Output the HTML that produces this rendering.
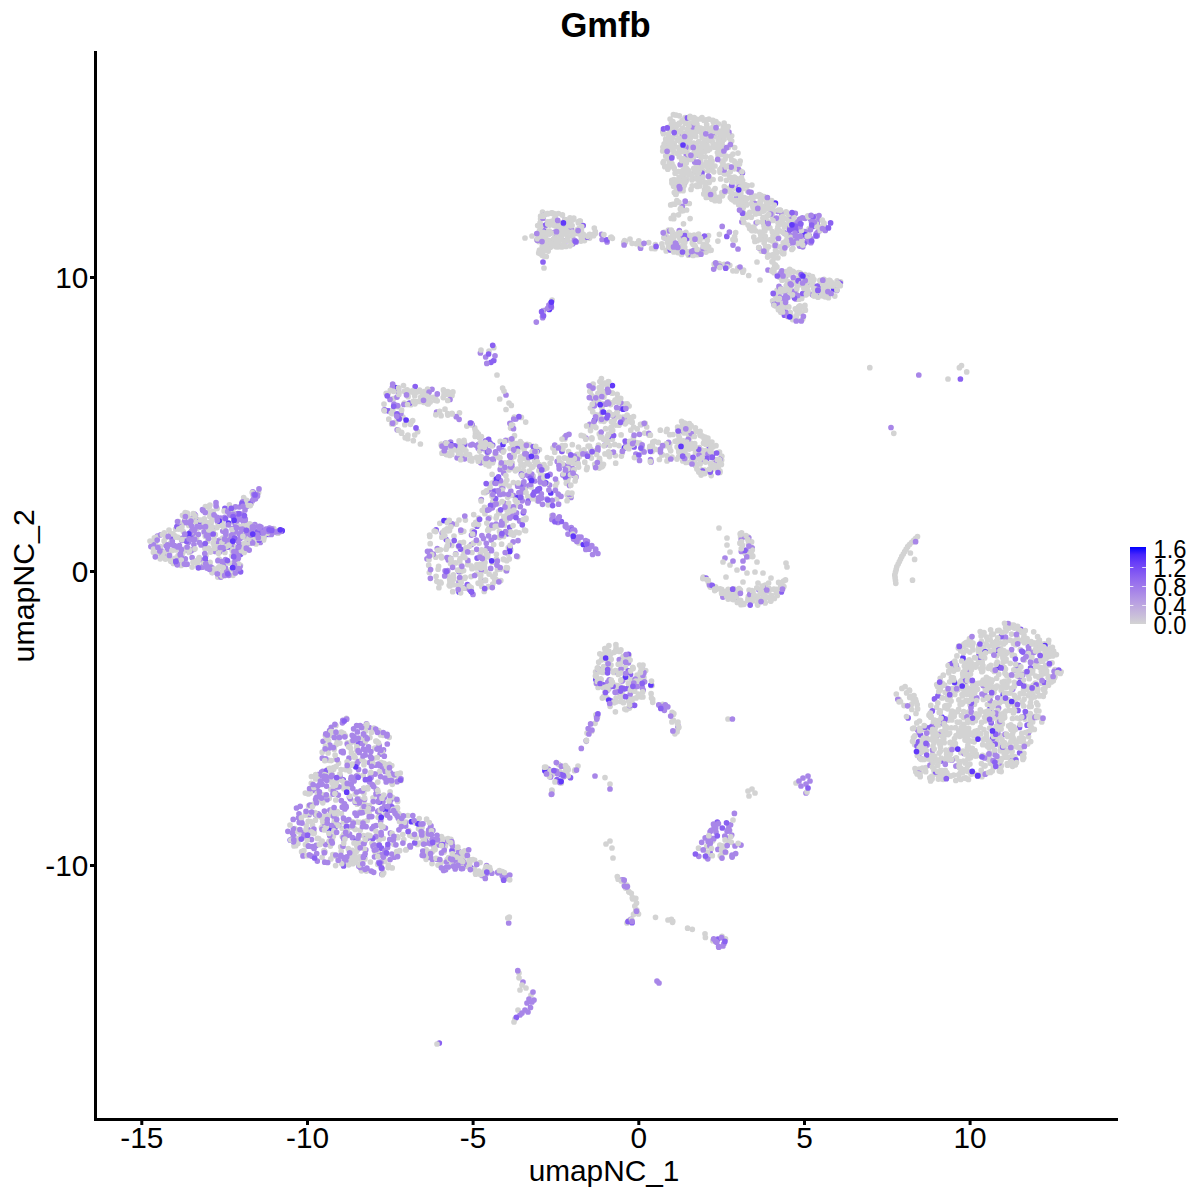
<!DOCTYPE html>
<html><head><meta charset="utf-8">
<style>
html,body{margin:0;padding:0;background:#fff;}
svg{display:block;}
text{font-family:"Liberation Sans",sans-serif;fill:#000;}
</style></head>
<body>
<svg width="1200" height="1200" viewBox="0 0 1200 1200">
<rect width="1200" height="1200" fill="#fff"/>
<g fill="none" stroke-linecap="round" stroke-width="5.7">
<path stroke="#D3D3D3" d="M710.5 129.8h0M721.4 132.8h0M668.6 127.4h0M677.7 124.7h0M706.2 197.4h0M712.0 128.9h0M702.1 135.2h0M722.8 168.0h0M678.9 181.4h0M713.4 128.7h0M662.8 131.9h0M688.8 147.0h0M719.3 137.6h0M665.7 139.1h0M720.6 178.9h0M723.4 168.5h0M675.4 191.9h0M723.4 192.5h0M723.9 150.3h0M696.6 146.6h0M700.8 160.8h0M740.2 170.8h0M674.3 124.2h0M701.3 151.5h0M722.3 136.5h0M688.7 130.3h0M666.6 147.3h0M696.4 177.4h0M691.8 144.6h0M718.5 140.5h0M667.4 157.3h0M690.7 117.3h0M700.8 118.9h0M724.7 192.4h0M685.9 119.2h0M740.2 161.0h0M699.1 179.8h0M694.2 151.9h0M674.1 179.5h0M675.1 173.2h0M682.5 128.1h0M679.1 177.3h0M712.1 198.4h0M731.7 135.8h0M713.1 145.0h0M696.7 144.9h0M728.1 165.9h0M684.5 164.4h0M705.4 189.0h0M708.9 119.2h0M722.2 141.9h0M683.9 175.6h0M719.4 200.9h0M672.8 121.7h0M735.4 164.4h0M675.6 194.3h0M695.6 153.7h0M700.0 162.3h0M693.9 171.9h0M719.7 139.2h0M691.3 157.2h0M722.4 171.8h0M683.1 190.7h0M727.5 132.0h0M686.4 168.4h0M723.0 162.1h0M710.4 179.8h0M723.4 132.0h0M686.9 172.7h0M686.1 159.2h0M685.3 123.4h0M674.3 168.4h0M689.3 134.7h0M682.4 121.0h0M698.5 163.8h0M712.2 141.2h0M708.5 192.0h0M670.1 130.7h0M723.5 169.6h0M710.3 197.3h0M714.3 136.3h0M721.4 161.0h0M675.5 182.5h0M699.8 179.3h0M666.8 150.5h0M735.2 165.5h0M711.0 179.4h0M698.3 154.2h0M700.8 153.7h0M694.2 117.7h0M684.2 179.1h0M708.2 171.1h0M715.1 188.6h0M672.6 137.3h0M683.9 135.3h0M693.8 168.4h0M707.2 166.4h0M685.1 117.5h0M697.4 164.9h0M730.8 156.3h0M686.3 178.9h0M711.6 199.1h0M700.4 178.5h0M702.9 171.0h0M710.1 161.7h0M665.7 156.0h0M720.0 172.2h0M673.4 127.8h0M719.7 131.5h0M702.6 164.9h0M709.0 169.7h0M663.4 133.7h0M701.0 177.0h0M674.4 146.2h0M701.9 151.9h0M723.8 166.0h0M701.5 128.6h0M677.3 140.1h0M678.6 147.4h0M686.2 180.6h0M683.9 172.0h0M688.3 170.7h0M694.0 132.2h0M695.8 136.4h0M696.8 168.9h0M692.8 122.9h0M713.8 190.3h0M721.9 192.6h0M701.4 132.6h0M671.5 123.5h0M686.1 143.7h0M726.1 156.1h0M684.3 184.7h0M692.0 179.9h0M724.4 126.2h0M688.8 147.9h0M708.1 137.6h0M677.2 153.2h0M726.9 134.9h0M723.3 125.9h0M668.0 150.7h0M727.5 166.2h0M679.4 131.2h0M720.5 139.0h0M665.2 143.4h0M681.0 133.0h0M790.7 219.3h0M766.1 224.5h0M752.8 199.9h0M752.6 198.8h0M764.4 223.9h0M730.3 197.4h0M783.2 242.9h0M739.5 181.5h0M764.3 238.2h0M764.1 243.0h0M759.4 194.5h0M786.1 225.6h0M771.7 200.5h0M789.6 225.4h0M736.8 178.7h0M782.3 249.6h0M735.1 201.8h0M767.5 204.4h0M774.4 245.7h0M745.6 184.9h0M754.1 211.3h0M753.8 237.2h0M765.3 236.3h0M787.2 236.4h0M755.6 230.8h0M760.6 201.2h0M762.6 233.1h0M733.0 200.0h0M742.4 185.9h0M761.3 251.1h0M742.9 188.6h0M766.5 205.1h0M748.1 225.0h0M752.2 230.7h0M790.8 219.1h0M760.3 232.8h0M744.8 214.8h0M765.6 246.5h0M769.9 227.9h0M761.9 207.6h0M737.9 183.0h0M740.6 181.2h0M772.3 214.9h0M777.3 252.3h0M764.2 229.9h0M789.0 228.2h0M790.5 215.2h0M766.9 216.2h0M774.6 243.0h0M760.6 203.9h0M768.1 221.8h0M759.5 197.1h0M784.4 226.9h0M788.5 219.9h0M764.2 210.6h0M783.8 253.7h0M747.5 185.5h0M765.3 197.5h0M778.0 222.7h0M759.9 205.6h0M751.6 195.8h0M763.2 197.7h0M786.3 212.5h0M742.6 180.6h0M761.4 236.1h0M784.1 232.5h0M740.5 185.8h0M772.1 216.8h0M780.9 217.2h0M764.2 196.6h0M768.5 246.7h0M813.5 222.3h0M796.4 226.9h0M792.9 248.3h0M800.8 235.1h0M824.0 223.1h0M809.1 228.7h0M802.1 244.2h0M818.4 230.3h0M791.0 217.2h0M792.8 220.5h0M792.9 236.4h0M810.9 218.4h0M801.6 244.7h0M789.3 220.8h0M826.4 294.4h0M840.6 281.9h0M773.8 303.6h0M814.4 295.9h0M790.6 285.9h0M790.9 315.6h0M802.6 275.0h0M798.3 282.4h0M804.9 305.3h0M824.0 279.4h0M802.7 319.0h0M795.9 278.0h0M786.3 272.2h0M789.7 269.4h0M802.4 276.4h0M777.1 290.3h0M800.4 273.1h0M808.1 285.9h0M780.7 292.3h0M778.6 299.4h0M800.6 276.4h0M809.0 275.4h0M777.5 305.6h0M795.8 292.0h0M824.5 286.6h0M788.8 296.9h0M780.4 272.8h0M805.7 294.9h0M805.2 275.5h0M828.1 282.1h0M793.5 295.6h0M823.7 295.9h0M819.7 285.0h0M801.1 282.8h0M798.3 295.8h0M802.9 294.2h0M787.1 284.1h0M796.1 309.5h0M789.0 290.6h0M780.1 305.1h0M798.8 285.0h0M783.9 305.1h0M772.8 261.4h0M776.9 266.9h0M792.4 284.1h0M779.4 291.5h0M787.8 275.0h0M837.1 280.8h0M801.7 298.4h0M836.8 289.4h0M813.4 285.5h0M810.3 283.3h0M825.1 296.8h0M823.8 295.4h0M799.9 311.3h0M829.9 283.1h0M780.8 312.3h0M557.7 232.1h0M544.9 238.0h0M567.1 239.5h0M540.0 227.1h0M571.8 235.6h0M542.6 248.0h0M584.5 240.6h0M539.3 225.6h0M544.3 233.2h0M546.3 256.5h0M558.8 222.9h0M557.9 239.8h0M546.5 246.7h0M575.3 240.5h0M542.5 212.0h0M540.6 235.5h0M544.0 231.6h0M548.0 243.6h0M589.6 238.1h0M542.3 249.9h0M581.1 230.7h0M548.0 213.7h0M580.3 221.0h0M540.6 218.9h0M563.8 234.0h0M563.8 240.3h0M546.9 232.5h0M570.5 231.0h0M554.1 225.2h0M538.9 241.6h0M551.9 213.3h0M577.7 232.5h0M560.2 223.9h0M550.2 244.1h0M554.4 225.5h0M561.3 238.4h0M558.3 246.8h0M542.8 242.2h0M545.5 230.6h0M578.4 222.9h0M545.0 232.6h0M573.1 233.5h0M540.1 222.9h0M558.4 213.5h0M542.2 246.5h0M539.5 252.6h0M542.6 255.3h0M556.1 232.9h0M572.7 236.4h0M547.5 246.2h0M565.7 226.1h0M541.0 236.9h0M562.3 215.1h0M562.4 214.9h0M632.1 243.3h0M651.6 248.4h0M625.6 242.0h0M648.7 242.6h0M640.1 246.8h0M679.5 233.5h0M694.5 239.7h0M706.3 245.7h0M695.4 235.8h0M703.8 244.3h0M706.5 246.0h0M674.3 242.9h0M690.6 251.3h0M706.6 245.2h0M668.1 243.7h0M688.5 255.2h0M680.0 233.4h0M706.0 252.1h0M665.2 237.5h0M687.8 238.6h0M683.3 251.3h0M668.4 230.0h0M678.1 252.7h0M683.1 244.7h0M666.8 250.4h0M666.2 250.9h0M666.8 236.6h0M680.4 240.2h0M665.7 232.3h0M684.8 233.5h0M684.8 242.4h0M696.2 250.0h0M700.4 251.6h0M690.1 218.6h0M678.5 214.8h0M681.2 210.7h0M671.2 218.4h0M685.9 203.3h0M703.1 237.7h0M719.4 234.3h0M717.9 241.1h0M748.7 275.5h0M737.9 268.1h0M724.1 264.4h0M719.2 263.7h0M552.1 300.0h0M532.0 236.0h0M757.0 262.0h0M760.0 280.0h0M489.0 351.0h0M497.0 375.0h0M499.7 399.0h0M511.3 405.4h0M506.0 409.5h0M404.3 403.2h0M393.4 398.7h0M403.5 385.5h0M404.3 391.3h0M398.1 406.7h0M407.4 392.5h0M437.2 400.8h0M443.2 397.6h0M445.4 394.4h0M447.8 391.6h0M422.9 401.0h0M444.1 391.5h0M419.5 401.4h0M427.1 403.4h0M420.8 399.7h0M414.1 392.8h0M429.7 397.1h0M424.1 391.5h0M417.7 391.8h0M414.9 403.8h0M452.9 391.9h0M402.9 417.0h0M414.7 435.0h0M401.6 432.3h0M407.9 435.2h0M392.7 413.7h0M410.4 424.3h0M485.9 447.8h0M452.0 413.3h0M476.6 431.8h0M445.0 409.2h0M475.5 433.6h0M459.5 412.8h0M475.3 430.5h0M470.3 422.9h0M478.3 433.9h0M510.5 458.0h0M489.7 443.2h0M441.2 445.1h0M500.2 441.4h0M481.7 457.2h0M504.9 462.8h0M527.1 444.3h0M529.3 464.2h0M461.8 444.5h0M495.1 454.0h0M518.7 469.5h0M512.1 442.6h0M462.0 447.8h0M499.7 457.6h0M464.0 440.4h0M488.9 466.0h0M464.3 444.3h0M464.8 445.8h0M469.1 455.0h0M519.6 447.3h0M456.2 449.9h0M532.1 451.5h0M503.8 450.5h0M514.2 454.8h0M462.3 449.9h0M461.4 455.1h0M477.6 458.2h0M461.1 454.7h0M521.0 464.9h0M481.7 443.7h0M534.6 461.2h0M522.5 444.1h0M520.3 460.0h0M524.3 464.4h0M451.1 454.5h0M451.4 450.2h0M509.0 440.2h0M441.3 444.1h0M487.6 453.3h0M451.8 454.4h0M541.1 483.0h0M575.1 481.0h0M540.7 475.1h0M533.2 476.2h0M546.8 467.9h0M521.6 497.9h0M556.8 499.0h0M527.8 496.4h0M545.1 467.0h0M548.2 504.8h0M525.6 488.1h0M544.6 475.8h0M555.5 485.8h0M523.3 470.7h0M632.2 422.6h0M572.2 472.3h0M579.4 456.4h0M637.2 428.9h0M639.8 443.2h0M603.9 421.3h0M615.4 416.8h0M587.2 467.4h0M672.0 457.2h0M562.1 451.5h0M596.1 450.5h0M564.1 458.0h0M608.6 451.8h0M569.7 459.4h0M599.2 418.1h0M584.0 449.8h0M615.4 455.6h0M578.6 467.1h0M565.2 445.5h0M594.7 464.4h0M601.8 466.8h0M575.3 463.7h0M630.8 430.2h0M590.5 426.6h0M601.3 417.7h0M661.9 455.0h0M621.4 456.1h0M574.1 469.7h0M564.9 439.0h0M599.7 461.6h0M592.7 451.3h0M615.6 425.1h0M622.3 452.8h0M562.2 445.6h0M611.4 421.6h0M584.8 462.2h0M611.3 427.0h0M612.2 439.0h0M599.3 468.1h0M665.9 445.7h0M599.5 458.3h0M621.1 434.9h0M615.7 463.2h0M669.8 444.0h0M612.4 439.2h0M591.4 458.1h0M510.5 428.1h0M521.4 417.4h0M512.6 425.0h0M600.9 421.0h0M599.6 415.0h0M610.0 414.7h0M602.0 403.6h0M612.0 414.7h0M602.0 384.4h0M612.3 414.9h0M601.9 408.1h0M622.7 421.9h0M609.1 412.4h0M613.7 424.0h0M597.9 393.4h0M617.2 394.3h0M614.5 419.4h0M601.4 378.5h0M610.6 404.6h0M604.0 391.6h0M613.4 402.3h0M617.3 411.8h0M614.4 417.6h0M624.8 404.2h0M608.5 401.9h0M589.8 391.3h0M590.4 408.0h0M608.7 381.8h0M613.5 424.6h0M686.8 462.2h0M720.0 471.2h0M683.5 440.8h0M684.0 447.0h0M707.9 438.2h0M687.9 455.3h0M721.7 456.0h0M688.9 436.3h0M718.4 468.4h0M691.6 458.1h0M696.9 468.9h0M699.4 463.5h0M679.5 438.0h0M684.5 456.0h0M699.4 447.6h0M714.3 459.5h0M685.8 442.5h0M689.8 437.9h0M683.8 426.1h0M689.4 423.5h0M702.4 450.4h0M704.7 470.2h0M710.8 464.5h0M704.2 442.4h0M692.3 462.7h0M684.8 445.3h0M711.8 469.8h0M684.8 428.6h0M677.1 446.9h0M679.3 438.2h0M711.9 442.1h0M721.7 460.1h0M695.5 452.7h0M692.0 433.7h0M710.0 446.0h0M704.1 438.4h0M691.2 457.8h0M694.7 443.5h0M689.2 446.6h0M691.4 461.1h0M705.9 444.2h0M701.1 475.1h0M694.5 462.8h0M694.8 459.5h0M701.6 469.9h0M706.0 451.5h0M711.5 469.9h0M710.4 463.5h0M719.5 452.0h0M700.8 454.0h0M503.5 471.7h0M510.2 512.9h0M496.7 515.8h0M515.4 470.8h0M491.9 483.0h0M488.7 530.2h0M472.3 530.8h0M441.9 557.2h0M524.5 530.2h0M488.8 528.4h0M447.0 547.0h0M509.7 518.1h0M484.5 507.3h0M484.9 513.7h0M519.1 532.8h0M489.6 517.5h0M495.4 479.6h0M473.7 514.6h0M441.6 557.8h0M525.7 519.4h0M499.4 536.7h0M439.8 523.3h0M493.2 527.9h0M485.4 492.6h0M501.8 488.1h0M495.5 479.7h0M451.8 545.4h0M462.9 549.8h0M449.1 557.5h0M440.9 556.2h0M472.0 552.5h0M447.0 528.8h0M429.8 536.4h0M487.7 530.3h0M460.1 558.6h0M509.7 511.9h0M459.0 520.0h0M503.7 502.5h0M496.4 559.2h0M503.4 559.2h0M465.4 520.1h0M508.3 547.6h0M464.1 587.9h0M505.8 570.6h0M460.9 571.8h0M471.0 576.6h0M436.8 581.3h0M472.0 568.7h0M461.1 565.0h0M496.1 579.5h0M449.2 585.3h0M438.9 587.7h0M480.9 578.9h0M453.4 574.8h0M485.3 571.1h0M455.6 562.9h0M468.2 588.5h0M476.6 574.0h0M468.4 563.1h0M488.3 586.7h0M458.7 585.9h0M449.9 586.0h0M439.3 582.9h0M471.2 565.8h0M446.3 573.5h0M500.8 580.5h0M453.3 579.4h0M551.8 515.5h0M578.8 542.9h0M210.7 529.5h0M159.9 552.2h0M210.5 550.7h0M204.0 531.5h0M211.1 523.1h0M181.7 539.9h0M182.5 523.9h0M218.3 550.2h0M212.9 511.4h0M215.3 534.7h0M207.0 529.1h0M184.3 516.8h0M172.5 535.2h0M224.0 568.1h0M222.2 521.5h0M217.7 522.5h0M219.1 559.1h0M220.5 525.1h0M164.4 552.2h0M203.5 527.0h0M206.1 529.1h0M174.7 558.3h0M188.6 548.8h0M208.8 528.3h0M221.7 547.3h0M188.8 525.4h0M222.8 538.6h0M207.3 526.2h0M201.1 567.3h0M214.2 546.2h0M180.8 556.3h0M175.6 529.1h0M160.7 552.6h0M213.3 511.6h0M219.1 566.9h0M193.3 515.6h0M155.5 544.0h0M212.7 516.3h0M170.5 536.2h0M154.3 541.7h0M185.2 512.7h0M209.8 516.4h0M222.7 538.2h0M217.8 577.1h0M178.1 555.7h0M212.5 567.9h0M187.5 535.9h0M199.2 557.5h0M197.4 519.6h0M204.9 548.5h0M213.1 571.5h0M174.9 535.9h0M170.8 561.3h0M182.8 515.3h0M160.9 554.6h0M170.4 533.6h0M208.3 511.8h0M182.5 515.3h0M186.7 541.5h0M206.0 555.5h0M188.3 550.2h0M166.6 554.4h0M174.6 561.5h0M223.4 563.8h0M153.4 552.3h0M179.6 522.8h0M178.2 537.3h0M224.9 552.4h0M189.2 552.4h0M193.3 549.4h0M165.3 559.1h0M164.1 540.9h0M218.8 552.0h0M216.1 544.1h0M192.1 567.1h0M204.3 518.8h0M213.1 570.6h0M221.1 542.0h0M210.2 527.7h0M153.2 547.2h0M225.8 544.4h0M244.3 530.6h0M252.8 533.1h0M254.9 497.7h0M233.4 550.7h0M243.7 497.5h0M234.1 536.4h0M243.2 526.3h0M229.4 504.8h0M232.5 514.8h0M238.9 526.7h0M232.6 563.2h0M245.5 538.1h0M233.8 546.4h0M241.7 536.8h0M273.8 531.6h0M256.7 496.2h0M248.2 541.0h0M261.4 530.0h0M238.2 555.4h0M228.7 523.9h0M230.5 547.2h0M244.3 537.2h0M244.0 549.0h0M233.7 521.1h0M249.8 526.9h0M246.8 547.0h0M266.9 532.9h0M278.2 530.8h0M261.1 536.3h0M278.0 533.2h0M273.8 528.7h0M740.3 533.6h0M748.1 553.2h0M751.6 541.9h0M749.1 556.6h0M741.6 532.9h0M703.3 577.2h0M763.7 597.5h0M768.9 588.3h0M750.9 598.0h0M747.9 600.2h0M735.9 598.5h0M765.0 595.7h0M750.8 593.2h0M714.7 590.6h0M709.5 584.6h0M748.1 598.3h0M777.2 591.7h0M757.1 597.3h0M781.0 588.6h0M708.4 582.3h0M749.1 590.0h0M757.7 605.1h0M722.2 594.2h0M765.3 585.0h0M752.3 597.2h0M737.7 593.7h0M757.5 604.5h0M751.7 600.4h0M762.2 593.7h0M753.0 600.8h0M728.2 589.3h0M765.2 603.0h0M771.6 595.6h0M735.3 593.5h0M764.5 591.9h0M770.5 600.8h0M764.6 602.0h0M783.9 586.6h0M748.4 596.4h0M753.0 592.2h0M767.6 597.3h0M727.0 538.0h0M737.0 570.0h0M755.0 572.0h0M726.0 577.0h0M786.0 563.0h0M913.5 540.5h0M904.7 551.5h0M894.8 574.9h0M895.5 580.5h0M895.8 583.3h0M961.5 365.6h0M966.7 371.9h0M959.4 367.7h0M994.3 737.6h0M984.1 765.9h0M996.8 668.7h0M1012.3 655.5h0M1004.5 698.3h0M1007.1 675.9h0M1030.3 713.6h0M1015.4 763.6h0M1020.4 649.5h0M1003.1 743.2h0M1031.3 693.0h0M965.7 663.0h0M944.9 734.8h0M956.8 684.5h0M981.6 722.4h0M940.1 710.8h0M967.5 692.7h0M1017.0 718.0h0M963.3 672.2h0M930.6 780.9h0M933.5 723.5h0M1013.5 643.4h0M976.3 755.9h0M959.6 722.1h0M969.5 638.7h0M1046.1 658.6h0M986.1 643.9h0M996.8 759.1h0M989.7 705.0h0M957.0 766.2h0M1014.7 762.9h0M1007.0 750.7h0M1030.6 726.2h0M1042.7 660.2h0M1056.4 654.6h0M993.4 767.5h0M973.5 682.9h0M919.4 741.1h0M963.7 711.7h0M941.2 776.0h0M915.8 771.8h0M1024.0 635.0h0M950.2 754.3h0M999.2 630.4h0M1011.1 729.4h0M1032.6 672.9h0M1014.3 695.3h0M1001.1 728.9h0M927.8 758.8h0M967.2 694.5h0M954.3 663.2h0M1033.9 642.8h0M985.3 690.0h0M978.8 653.2h0M1040.3 648.8h0M1054.2 671.4h0M1035.6 649.6h0M986.7 637.0h0M994.2 752.2h0M996.8 643.8h0M999.4 703.1h0M976.7 664.3h0M946.2 726.8h0M1037.6 636.7h0M995.9 716.8h0M939.2 712.5h0M1043.8 673.6h0M965.8 684.9h0M936.4 738.3h0M943.7 773.5h0M1044.9 692.3h0M966.8 678.6h0M972.0 734.7h0M1011.9 689.7h0M1009.0 700.2h0M983.2 680.0h0M993.3 646.0h0M912.6 728.6h0M974.2 688.8h0M1011.6 634.1h0M920.6 743.5h0M1014.5 655.5h0M1013.9 655.3h0M956.9 655.9h0M1001.4 689.0h0M985.3 688.1h0M997.6 664.0h0M998.5 653.1h0M1003.2 748.2h0M967.8 771.4h0M1000.4 750.8h0M1023.5 690.1h0M1039.6 654.5h0M1039.1 661.7h0M975.5 667.1h0M1036.5 710.6h0M986.7 690.3h0M1003.1 687.2h0M914.8 735.9h0M929.2 729.0h0M986.4 739.6h0M968.1 688.1h0M951.4 677.5h0M935.5 727.4h0M1029.1 649.3h0M1022.9 759.4h0M979.8 647.6h0M952.9 693.2h0M1040.8 648.4h0M988.4 668.3h0M951.1 701.1h0M993.4 634.1h0M1017.0 668.5h0M1000.5 653.5h0M963.6 689.3h0M1030.0 722.3h0M972.4 664.0h0M958.6 709.4h0M990.2 763.3h0M1012.1 751.4h0M960.7 752.6h0M1031.2 643.9h0M986.7 713.0h0M1004.5 742.6h0M970.5 640.0h0M994.9 712.3h0M1000.4 716.7h0M932.4 739.8h0M978.2 683.3h0M943.3 675.2h0M976.1 685.4h0M1003.1 748.2h0M1052.0 662.8h0M930.6 759.6h0M1013.0 731.9h0M956.1 735.7h0M1028.3 695.4h0M1015.2 698.1h0M958.5 733.6h0M1050.2 650.5h0M972.2 695.0h0M1028.4 687.2h0M980.7 775.5h0M948.8 670.8h0M985.7 773.5h0M925.8 767.5h0M959.4 778.5h0M924.1 744.0h0M989.2 646.1h0M932.1 739.2h0M972.6 722.4h0M949.6 733.0h0M970.5 757.8h0M945.0 707.7h0M1040.0 695.3h0M987.8 744.8h0M927.1 727.5h0M1054.9 669.7h0M1043.2 671.0h0M961.1 727.6h0M1015.5 764.8h0M1012.0 625.3h0M933.1 736.8h0M924.9 740.2h0M1046.3 683.8h0M968.5 713.6h0M920.1 772.2h0M1048.4 656.4h0M960.7 651.0h0M1000.6 648.4h0M1010.6 759.8h0M967.9 678.2h0M954.8 694.5h0M990.8 665.3h0M951.3 667.3h0M946.3 773.3h0M950.5 716.6h0M980.8 658.6h0M966.9 731.7h0M944.6 731.6h0M992.3 634.3h0M1007.5 735.4h0M1037.0 646.5h0M966.6 642.4h0M1024.9 719.1h0M1023.8 688.5h0M919.5 721.0h0M1041.3 683.2h0M949.6 695.7h0M946.9 773.0h0M941.3 697.6h0M1030.7 741.6h0M1011.2 652.1h0M966.4 650.5h0M957.2 722.1h0M1013.8 762.2h0M1000.0 724.5h0M1041.8 722.0h0M1048.4 642.9h0M975.4 720.7h0M996.2 705.8h0M940.9 777.6h0M979.9 733.5h0M1035.7 662.9h0M943.1 779.3h0M997.0 738.4h0M967.6 765.9h0M1024.8 672.3h0M1005.5 757.2h0M1001.2 636.7h0M1016.4 746.6h0M1008.8 623.9h0M936.6 707.3h0M1002.4 723.9h0M1048.2 677.6h0M1036.9 717.5h0M928.6 739.4h0M937.6 686.5h0M930.8 717.2h0M970.5 674.0h0M1004.9 673.2h0M932.7 753.9h0M1045.7 667.2h0M1042.7 657.7h0M1003.6 713.2h0M1000.7 747.9h0M974.1 755.0h0M966.7 778.5h0M980.3 709.9h0M971.4 694.9h0M969.8 652.1h0M932.3 757.8h0M980.9 668.7h0M1015.7 644.7h0M1035.3 716.1h0M1044.3 643.9h0M997.7 630.7h0M982.4 666.7h0M1031.2 706.4h0M1061.1 671.8h0M940.2 690.1h0M922.9 751.3h0M998.9 650.9h0M1021.0 640.7h0M1001.7 714.3h0M1037.4 642.7h0M958.9 699.9h0M940.4 744.0h0M991.0 696.1h0M997.1 646.5h0M1028.5 736.4h0M1026.8 689.5h0M963.7 693.8h0M970.4 664.1h0M968.6 740.3h0M958.8 730.5h0M978.5 648.3h0M989.3 689.6h0M973.2 689.1h0M968.4 712.1h0M955.5 758.4h0M985.4 720.8h0M933.2 734.1h0M1045.4 652.7h0M958.1 765.1h0M1032.7 670.5h0M999.4 666.3h0M1036.9 666.2h0M994.6 744.2h0M981.5 756.6h0M919.1 750.1h0M1013.9 703.7h0M984.7 658.0h0M932.8 756.6h0M919.2 769.0h0M942.0 770.7h0M927.5 731.0h0M970.9 644.9h0M998.5 760.3h0M914.6 744.6h0M987.4 690.2h0M955.4 743.6h0M998.2 744.6h0M999.9 717.8h0M964.5 736.2h0M1028.0 713.3h0M983.3 699.4h0M1006.5 653.2h0M929.0 731.7h0M971.4 643.6h0M1004.8 658.2h0M964.0 660.3h0M1007.4 751.5h0M950.6 749.0h0M1012.3 626.9h0M1052.7 655.9h0M963.7 717.6h0M1032.2 643.1h0M946.9 727.7h0M974.7 684.2h0M1035.8 651.3h0M1014.1 740.3h0M1001.5 765.5h0M982.7 671.0h0M1009.7 757.6h0M939.2 724.8h0M977.3 717.3h0M1025.2 715.7h0M929.0 715.2h0M949.6 752.8h0M924.0 759.5h0M1036.0 647.3h0M991.5 742.9h0M967.4 748.4h0M999.9 735.3h0M989.1 666.7h0M944.2 731.0h0M970.9 661.6h0M977.5 689.2h0M996.4 641.0h0M919.7 741.4h0M1038.8 716.9h0M1035.4 683.1h0M1053.6 651.2h0M949.1 705.1h0M1037.4 691.6h0M1019.1 670.9h0M1054.9 676.6h0M950.6 742.4h0M950.5 753.7h0M957.9 668.9h0M909.4 690.2h0M916.0 713.5h0M899.0 699.4h0M912.9 696.2h0M380.0 833.7h0M328.0 747.9h0M352.2 858.3h0M343.3 803.3h0M343.5 822.0h0M371.9 843.3h0M357.3 849.9h0M329.3 798.3h0M418.5 828.8h0M314.1 788.1h0M365.3 804.8h0M389.2 737.3h0M383.7 872.9h0M329.9 735.6h0M393.3 798.1h0M337.0 786.5h0M298.0 830.4h0M384.8 861.3h0M308.2 821.4h0M319.3 816.1h0M416.0 822.5h0M323.1 825.4h0M341.4 813.6h0M325.4 735.4h0M373.2 785.0h0M406.3 822.0h0M467.4 866.2h0M355.1 757.6h0M356.9 747.2h0M464.7 850.9h0M354.7 764.0h0M352.8 863.7h0M291.9 840.3h0M321.5 827.5h0M363.4 835.7h0M355.8 764.2h0M462.2 867.1h0M359.3 812.1h0M338.5 763.2h0M331.9 826.7h0M346.4 718.4h0M426.1 849.7h0M379.1 840.3h0M335.8 759.2h0M362.9 825.5h0M362.9 803.6h0M444.2 839.1h0M320.3 844.2h0M352.7 821.9h0M373.0 797.8h0M294.8 828.5h0M362.2 808.6h0M432.0 863.6h0M331.8 814.2h0M426.7 837.0h0M333.7 769.3h0M426.1 859.3h0M438.1 859.5h0M356.3 843.3h0M337.3 741.7h0M393.8 844.3h0M365.2 840.7h0M356.1 742.8h0M345.4 735.9h0M364.0 821.7h0M383.3 838.3h0M348.9 787.4h0M314.3 832.8h0M407.9 815.5h0M368.5 806.6h0M400.3 773.1h0M426.6 819.2h0M349.5 744.1h0M336.9 778.5h0M293.6 831.3h0M308.9 815.3h0M342.1 828.3h0M354.1 739.7h0M347.3 742.8h0M364.9 742.5h0M361.7 861.1h0M391.7 782.4h0M362.0 737.8h0M310.7 821.5h0M370.2 775.3h0M357.2 751.1h0M351.1 777.8h0M318.7 838.5h0M378.1 801.9h0M361.8 869.1h0M393.3 775.6h0M322.1 842.5h0M317.0 790.8h0M336.1 816.2h0M350.7 742.9h0M339.9 743.1h0M358.2 858.3h0M375.9 741.2h0M336.1 766.6h0M377.8 782.1h0M331.2 760.6h0M349.9 862.5h0M381.1 762.5h0M369.1 813.0h0M373.6 758.3h0M461.4 858.2h0M363.9 793.2h0M349.9 827.1h0M330.8 789.3h0M391.9 778.6h0M376.0 853.5h0M378.4 851.8h0M322.1 857.3h0M343.8 834.4h0M438.0 840.5h0M406.3 849.5h0M381.4 818.2h0M361.5 870.8h0M367.8 788.8h0M447.1 859.6h0M313.2 804.4h0M435.1 849.6h0M374.3 773.8h0M345.6 836.0h0M423.2 841.6h0M378.8 730.6h0M374.7 748.0h0M357.8 775.1h0M370.8 761.6h0M355.2 794.1h0M372.9 843.8h0M328.8 760.3h0M326.5 815.9h0M295.8 845.7h0M376.9 837.1h0M312.5 825.1h0M328.0 769.0h0M301.6 851.7h0M357.2 804.2h0M392.2 867.9h0M441.3 862.2h0M397.5 836.5h0M294.0 845.9h0M397.9 837.7h0M363.2 775.3h0M322.2 752.2h0M337.5 735.4h0M464.0 856.5h0M365.8 805.0h0M310.3 805.4h0M503.0 878.4h0M475.7 874.2h0M508.1 875.6h0M461.7 853.6h0M483.8 871.9h0M455.0 860.1h0M444.1 852.0h0M453.9 849.7h0M440.3 839.7h0M421.3 834.4h0M441.5 836.7h0M453.9 858.3h0M480.1 862.5h0M621.2 661.3h0M627.2 660.9h0M640.6 671.7h0M605.1 687.9h0M620.9 649.9h0M603.6 696.7h0M631.5 680.1h0M598.7 662.2h0M605.1 692.1h0M601.5 660.0h0M652.0 685.5h0M639.8 685.6h0M628.7 699.5h0M634.5 683.6h0M623.4 689.1h0M627.8 708.6h0M607.2 661.6h0M623.8 679.4h0M613.7 672.5h0M597.8 667.8h0M607.3 670.8h0M622.4 679.6h0M651.0 685.6h0M632.4 698.7h0M595.6 671.9h0M645.7 670.5h0M616.1 648.2h0M627.9 657.4h0M607.0 666.2h0M602.7 687.3h0M603.6 666.5h0M617.8 685.5h0M632.3 703.8h0M619.9 694.2h0M615.9 687.5h0M618.4 650.0h0M597.1 682.2h0M628.6 700.9h0M614.6 702.6h0M603.9 654.2h0M624.8 709.0h0M629.0 655.2h0M618.8 687.2h0M626.3 709.7h0M621.1 701.4h0M616.2 701.8h0M606.7 653.1h0M642.9 696.9h0M627.5 656.2h0M601.9 684.0h0M622.6 657.5h0M602.9 654.7h0M603.8 655.2h0M671.9 721.9h0M662.7 704.4h0M677.7 728.7h0M678.0 722.2h0M673.4 714.5h0M677.1 731.7h0M586.3 741.3h0M567.6 768.2h0M565.7 769.9h0M564.9 772.7h0M575.0 769.8h0M559.8 771.6h0M574.6 770.7h0M568.2 769.7h0M546.7 773.4h0M558.8 764.4h0M796.0 783.0h0M748.0 791.0h0M755.0 793.0h0M612.0 848.0h0M706.7 846.4h0M728.9 841.3h0M721.6 854.5h0M719.8 845.0h0M731.3 842.3h0M729.7 830.6h0M731.7 856.6h0M705.5 857.1h0M618.1 879.2h0M628.7 920.7h0M633.5 914.4h0M624.3 885.3h0M636.8 910.0h0M635.8 898.3h0M627.0 923.0h0M636.5 903.1h0M633.1 897.8h0M671.4 919.4h0M672.7 921.1h0M655.5 917.3h0M722.0 936.4h0M712.9 940.7h0M519.0 977.8h0M531.0 995.0h0M515.0 1019.0h0M519.0 973.0h0"/>
<path stroke="#A886E8" d="M728.9 132.2h0M738.3 169.0h0M714.9 132.5h0M682.5 142.5h0M680.2 164.7h0M698.2 154.9h0M751.1 192.3h0M741.9 221.8h0M736.4 195.6h0M784.3 232.9h0M758.9 247.8h0M755.1 203.5h0M777.6 211.3h0M817.2 222.8h0M789.1 234.4h0M789.8 227.8h0M816.1 234.2h0M798.1 229.4h0M815.8 216.6h0M795.9 221.5h0M815.9 223.4h0M816.4 222.3h0M818.3 219.8h0M789.5 243.2h0M807.2 241.4h0M791.9 236.4h0M817.8 232.4h0M817.2 235.7h0M810.3 218.8h0M816.9 233.2h0M809.3 235.5h0M819.0 215.5h0M810.9 242.7h0M798.2 310.7h0M781.9 270.9h0M779.8 309.5h0M804.5 276.9h0M795.8 298.9h0M779.6 301.0h0M836.7 290.5h0M785.0 277.1h0M780.0 307.4h0M780.7 298.2h0M838.6 282.7h0M802.1 277.7h0M810.3 279.0h0M777.7 300.8h0M805.4 278.0h0M779.4 297.1h0M566.5 240.7h0M559.7 224.3h0M572.8 243.8h0M549.3 233.6h0M563.2 229.0h0M554.0 244.8h0M565.1 219.9h0M570.8 220.7h0M580.2 233.7h0M601.6 234.3h0M607.1 241.9h0M676.6 249.7h0M669.7 230.9h0M683.5 235.4h0M664.5 237.6h0M672.5 237.2h0M707.3 248.1h0M682.3 206.4h0M733.0 245.1h0M713.7 269.1h0M728.0 265.6h0M542.7 317.7h0M543.3 310.6h0M542.5 316.8h0M551.4 307.4h0M384.3 409.9h0M394.0 404.1h0M397.0 397.1h0M432.0 389.3h0M397.2 429.8h0M399.2 419.0h0M436.6 412.2h0M485.3 440.8h0M456.2 416.7h0M509.7 455.7h0M478.2 448.3h0M450.6 442.0h0M444.7 453.3h0M495.6 451.9h0M457.1 457.8h0M478.6 444.4h0M493.4 460.1h0M460.8 446.0h0M445.7 443.2h0M480.8 462.8h0M499.2 448.2h0M450.3 445.2h0M501.9 450.6h0M505.7 440.3h0M464.6 458.8h0M529.1 485.6h0M570.0 472.5h0M540.3 481.9h0M571.0 497.4h0M564.2 465.3h0M540.2 478.3h0M549.6 485.1h0M534.6 481.0h0M522.5 475.9h0M572.4 468.5h0M523.6 484.7h0M568.4 471.5h0M542.5 504.3h0M573.8 475.2h0M625.9 443.2h0M651.0 447.4h0M613.4 452.1h0M585.9 438.2h0M559.2 468.8h0M586.9 454.1h0M557.2 461.4h0M651.0 461.9h0M668.5 442.3h0M635.9 454.0h0M589.7 424.4h0M597.9 450.2h0M641.2 424.5h0M513.5 428.7h0M515.9 418.9h0M620.8 408.3h0M602.3 412.2h0M612.8 415.6h0M626.6 416.9h0M620.8 402.6h0M607.5 402.3h0M600.2 395.7h0M684.7 450.1h0M703.3 460.0h0M522.2 500.8h0M502.7 488.1h0M486.9 491.3h0M519.7 498.5h0M487.6 510.2h0M510.8 491.1h0M500.2 469.4h0M494.1 499.1h0M488.4 518.8h0M464.8 516.0h0M448.3 559.9h0M496.1 524.0h0M520.3 506.7h0M448.8 544.4h0M455.7 553.9h0M481.3 499.5h0M513.1 541.9h0M515.7 499.5h0M513.4 534.7h0M491.5 491.2h0M506.0 503.9h0M491.2 540.0h0M471.4 544.6h0M446.4 520.6h0M519.6 520.9h0M442.2 533.1h0M437.3 548.5h0M482.4 558.2h0M513.3 495.3h0M491.8 525.2h0M506.6 570.7h0M459.0 582.2h0M464.7 587.7h0M481.2 570.1h0M485.2 580.5h0M595.6 550.3h0M597.9 553.5h0M574.8 531.3h0M559.3 516.8h0M565.3 526.2h0M571.3 527.6h0M570.6 528.2h0M585.8 549.4h0M554.3 520.6h0M178.6 524.9h0M192.8 535.5h0M150.9 546.6h0M186.7 539.3h0M219.8 540.1h0M173.7 536.8h0M179.4 545.7h0M201.1 545.0h0M188.4 542.3h0M191.1 550.7h0M182.5 563.2h0M175.7 548.9h0M204.9 523.1h0M202.7 560.3h0M182.9 538.1h0M220.7 518.0h0M167.8 549.1h0M193.9 532.6h0M160.9 550.4h0M224.8 562.8h0M194.3 514.2h0M194.0 549.0h0M153.6 544.8h0M177.2 560.8h0M225.5 568.1h0M188.9 536.6h0M219.4 552.1h0M162.9 553.8h0M221.4 574.3h0M224.7 517.4h0M192.1 557.6h0M185.5 549.8h0M203.2 526.1h0M192.5 518.5h0M222.8 531.1h0M157.4 536.0h0M204.8 553.5h0M185.3 558.9h0M172.7 561.6h0M184.8 520.4h0M217.9 560.7h0M268.2 534.3h0M263.7 531.5h0M252.0 501.3h0M251.6 534.0h0M254.9 524.7h0M260.5 533.8h0M239.4 507.0h0M249.4 528.8h0M239.3 543.8h0M237.9 541.0h0M239.7 534.5h0M238.4 557.7h0M239.2 513.7h0M241.6 545.0h0M249.6 537.5h0M269.6 534.5h0M253.8 525.2h0M240.1 538.6h0M259.7 529.8h0M241.8 514.0h0M237.6 513.6h0M261.0 527.2h0M231.2 547.2h0M237.6 550.3h0M235.8 531.1h0M244.0 533.2h0M260.3 542.5h0M242.5 501.9h0M234.8 522.8h0M271.4 534.5h0M260.8 531.9h0M241.9 535.8h0M252.1 530.2h0M252.5 534.2h0M257.6 533.8h0M748.7 537.5h0M752.1 547.8h0M763.0 587.3h0M749.8 594.4h0M742.5 603.6h0M758.8 599.2h0M743.0 568.0h0M746.0 550.0h0M918.8 375.0h0M1011.6 649.6h0M932.5 750.0h0M982.0 694.0h0M919.1 732.3h0M999.2 763.1h0M967.8 669.3h0M998.6 708.0h0M971.3 712.2h0M997.7 697.8h0M1022.7 674.9h0M949.8 664.5h0M1036.5 660.8h0M1054.2 671.3h0M1028.4 646.7h0M966.9 716.8h0M1008.0 623.7h0M955.9 766.0h0M918.7 773.0h0M993.9 652.9h0M983.2 685.5h0M1012.8 689.0h0M932.3 726.2h0M964.1 753.5h0M1005.0 734.4h0M1043.0 718.2h0M984.9 695.1h0M897.8 699.3h0M432.9 830.3h0M377.7 811.5h0M360.3 867.5h0M349.5 851.5h0M445.1 844.6h0M351.3 784.3h0M338.3 795.1h0M299.0 813.8h0M334.7 783.2h0M384.6 806.9h0M352.0 856.6h0M468.7 849.8h0M331.1 830.1h0M399.5 778.8h0M347.0 826.4h0M319.2 775.8h0M321.6 772.0h0M296.5 808.0h0M369.6 781.9h0M333.2 791.0h0M373.2 801.6h0M360.8 790.9h0M370.4 756.6h0M372.4 808.8h0M405.3 823.0h0M384.4 797.6h0M366.1 826.7h0M312.6 790.5h0M369.3 727.5h0M388.1 810.3h0M346.2 807.3h0M410.4 847.0h0M341.3 751.7h0M360.0 812.9h0M371.1 777.4h0M382.8 769.0h0M322.7 771.4h0M430.2 857.3h0M326.5 823.4h0M362.1 726.9h0M386.1 853.9h0M378.8 810.6h0M347.3 744.1h0M364.9 749.5h0M461.7 862.0h0M324.6 851.7h0M347.7 835.3h0M461.3 868.6h0M388.0 779.7h0M319.9 784.1h0M374.9 765.2h0M378.6 864.1h0M326.9 799.7h0M430.5 827.2h0M335.9 819.3h0M309.3 814.2h0M331.0 773.4h0M337.2 759.6h0M372.0 828.6h0M390.8 800.0h0M445.6 869.7h0M318.0 774.7h0M332.4 825.5h0M362.3 790.9h0M380.8 862.2h0M343.5 818.2h0M447.8 841.1h0M391.8 854.1h0M358.9 866.3h0M387.1 734.3h0M344.8 809.0h0M455.2 869.0h0M374.5 856.8h0M353.6 728.8h0M364.5 799.5h0M376.4 789.4h0M379.6 815.5h0M366.3 838.3h0M325.7 758.9h0M349.0 758.2h0M287.9 831.3h0M325.7 844.6h0M425.6 840.9h0M367.3 749.8h0M364.1 806.5h0M432.3 859.2h0M394.3 857.2h0M331.3 727.4h0M358.3 761.5h0M316.1 845.4h0M446.6 862.0h0M365.1 754.9h0M380.1 754.2h0M311.5 839.6h0M323.1 741.3h0M385.1 771.5h0M308.1 829.6h0M318.1 813.9h0M303.4 832.5h0M385.6 765.4h0M431.0 825.9h0M355.2 802.2h0M335.7 793.0h0M390.6 810.2h0M398.9 829.8h0M329.6 730.7h0M346.1 806.4h0M386.1 809.8h0M354.0 736.7h0M385.4 828.0h0M357.1 763.5h0M376.0 793.9h0M324.2 779.0h0M422.2 855.3h0M352.5 837.7h0M383.0 801.8h0M363.9 788.5h0M365.8 737.0h0M452.3 859.2h0M325.8 733.9h0M362.5 856.8h0M390.4 833.2h0M374.5 845.0h0M338.7 825.0h0M325.0 824.3h0M329.9 810.2h0M349.4 796.9h0M376.9 855.9h0M343.0 862.9h0M395.9 844.8h0M432.1 859.1h0M497.9 872.8h0M463.4 861.6h0M491.8 873.2h0M497.6 872.3h0M486.6 865.6h0M482.1 875.5h0M509.8 875.1h0M466.5 864.2h0M459.0 851.5h0M619.3 659.7h0M622.2 681.0h0M609.3 679.9h0M630.2 694.0h0M643.4 674.8h0M628.4 662.8h0M618.0 691.8h0M677.9 725.9h0M660.8 706.7h0M664.4 710.3h0M658.8 704.9h0M665.3 704.9h0M548.4 769.0h0M556.3 762.6h0M551.3 794.3h0M803.0 778.0h0M806.0 793.0h0M801.0 786.0h0M729.0 826.6h0M730.6 824.8h0M735.0 846.0h0M729.3 830.3h0M716.0 832.1h0M705.2 837.9h0M741.0 845.1h0M714.1 827.8h0M732.2 857.1h0M727.1 831.3h0M630.9 919.4h0M523.0 982.0h0M530.5 1007.5h0M527.0 1003.0h0M525.0 1010.0h0M520.0 1015.0h0M532.0 1002.0h0M534.0 1000.0h0M657.0 981.0h0"/>
<path stroke="#8A61F1" d="M701.9 173.2h0M742.4 172.8h0M663.5 128.9h0M685.0 181.8h0M764.1 219.1h0M797.6 230.2h0M801.5 243.4h0M813.0 226.4h0M785.8 298.3h0M824.8 285.0h0M780.0 309.1h0M840.3 283.3h0M784.4 315.2h0M819.0 288.9h0M794.9 296.3h0M543.6 215.7h0M564.1 229.7h0M543.4 230.7h0M689.4 253.8h0M669.7 248.6h0M670.5 250.0h0M543.0 262.0h0M388.8 410.9h0M385.2 410.4h0M398.4 389.0h0M415.2 386.6h0M492.6 445.1h0M464.7 444.3h0M485.1 447.9h0M484.9 446.4h0M520.6 485.1h0M539.5 488.7h0M528.2 501.0h0M540.4 466.9h0M561.9 451.3h0M608.6 436.8h0M634.1 447.0h0M613.6 435.5h0M625.2 441.0h0M703.0 473.2h0M703.0 471.4h0M709.3 447.8h0M698.7 449.3h0M682.7 430.9h0M499.5 492.7h0M509.6 527.3h0M477.0 526.2h0M446.2 539.5h0M510.3 494.7h0M507.6 533.8h0M436.1 529.9h0M458.9 571.6h0M571.4 530.2h0M575.6 539.7h0M176.9 526.6h0M223.4 548.8h0M162.2 555.9h0M189.8 536.7h0M224.9 508.3h0M171.4 537.3h0M247.4 524.5h0M227.3 561.6h0M252.7 530.8h0M253.8 493.0h0M240.6 554.3h0M243.0 534.2h0M268.1 531.8h0M263.1 531.4h0M723.7 595.5h0M758.8 589.6h0M781.4 591.9h0M706.0 578.0h0M960.4 379.0h0M1019.5 727.4h0M966.4 680.3h0M920.1 758.1h0M943.0 723.1h0M949.6 759.5h0M1023.6 716.8h0M991.2 723.0h0M917.0 746.1h0M998.7 650.1h0M1044.4 682.5h0M920.5 734.9h0M1021.7 651.1h0M1031.5 694.4h0M1025.3 711.6h0M978.8 656.0h0M934.5 698.9h0M941.0 761.2h0M1018.0 710.4h0M1058.7 670.1h0M992.5 738.7h0M980.6 658.9h0M1020.8 629.4h0M1018.9 665.5h0M922.3 746.1h0M918.4 741.9h0M1030.6 667.8h0M1011.5 757.3h0M908.1 717.9h0M452.0 850.6h0M379.4 802.1h0M383.2 796.0h0M343.2 779.8h0M343.6 865.9h0M326.5 770.6h0M358.6 743.1h0M346.4 826.5h0M356.0 841.0h0M329.3 842.2h0M335.1 827.5h0M471.1 867.9h0M597.9 669.1h0M603.5 684.8h0M627.8 688.4h0M630.5 674.4h0M641.8 666.6h0M628.4 654.3h0M557.0 779.7h0M570.5 777.7h0M554.6 772.6h0M560.9 774.6h0M726.5 822.8h0M722.3 828.0h0M717.3 822.1h0M628.0 921.6h0M717.9 939.1h0M516.3 1017.4h0M439.3 1043.0h0"/>
<path stroke="#6139F9" d="M775.4 203.2h0M737.7 194.6h0M772.3 208.6h0M816.9 224.4h0M833.6 289.1h0M549.3 309.5h0M395.5 387.6h0M450.9 444.7h0M503.0 444.6h0M550.8 493.0h0M594.7 420.1h0M624.3 447.9h0M623.2 409.2h0M612.4 385.6h0M518.0 497.0h0M444.0 520.6h0M219.2 521.1h0M207.0 562.5h0M735.0 598.7h0M1020.6 681.8h0M1044.9 645.7h0M994.3 654.1h0M963.0 657.9h0M990.1 708.2h0M411.5 821.7h0M385.4 809.9h0M364.4 857.2h0M456.9 858.2h0M618.2 673.0h0M560.5 781.3h0M549.3 772.0h0M544.9 770.8h0"/>
<path stroke="#D3D3D3" d="M726.6 173.9h0M716.5 197.8h0M716.0 121.6h0M689.5 154.9h0M683.6 186.4h0M669.4 166.9h0M698.6 172.9h0M682.8 143.6h0M684.9 119.1h0M686.7 152.7h0M682.7 139.8h0M701.1 132.1h0M712.1 161.3h0M697.8 147.1h0M675.7 134.6h0M725.2 131.3h0M690.1 159.5h0M662.7 151.0h0M701.2 156.3h0M724.2 173.8h0M731.9 167.1h0M700.6 128.2h0M675.2 127.9h0M671.3 141.4h0M686.6 146.4h0M718.4 123.8h0M673.6 151.0h0M679.4 115.8h0M718.1 155.4h0M710.8 158.4h0M727.6 191.0h0M702.2 146.6h0M728.2 126.6h0M730.2 171.7h0M716.6 130.1h0M679.3 190.7h0M697.3 154.3h0M687.2 143.3h0M669.8 161.7h0M722.7 146.0h0M664.8 166.7h0M706.9 196.9h0M675.3 185.2h0M679.1 190.7h0M734.7 147.6h0M698.7 141.5h0M681.7 135.3h0M684.3 139.3h0M697.0 124.3h0M705.4 156.9h0M692.1 178.8h0M676.1 194.2h0M720.5 145.7h0M715.0 200.7h0M674.3 143.1h0M718.1 138.9h0M699.3 167.4h0M675.2 185.8h0M695.8 172.3h0M668.0 140.3h0M731.0 140.5h0M737.2 163.8h0M692.6 127.2h0M699.9 165.7h0M721.0 172.0h0M725.0 125.9h0M670.2 157.2h0M694.4 136.0h0M722.5 131.1h0M699.5 170.2h0M707.9 191.3h0M693.8 135.3h0M721.7 167.7h0M682.7 170.7h0M695.3 153.2h0M688.0 170.1h0M717.4 152.6h0M707.3 140.7h0M690.6 135.4h0M696.0 126.7h0M722.0 154.3h0M671.9 163.5h0M710.4 162.6h0M683.8 169.5h0M671.7 149.7h0M689.9 123.7h0M729.2 188.0h0M712.8 131.4h0M685.0 133.1h0M712.2 199.3h0M672.1 155.8h0M715.0 166.0h0M713.1 179.5h0M668.8 136.5h0M675.3 130.6h0M672.7 148.5h0M708.8 176.5h0M706.8 144.7h0M708.1 188.7h0M673.6 186.3h0M710.3 136.4h0M718.8 141.4h0M713.8 144.4h0M689.0 126.4h0M691.5 175.1h0M681.7 160.6h0M734.2 161.0h0M692.2 130.7h0M718.8 149.0h0M705.7 186.4h0M669.2 164.0h0M738.0 153.1h0M697.3 186.5h0M696.2 132.0h0M690.0 174.4h0M673.4 114.7h0M706.7 124.5h0M734.3 168.8h0M707.1 191.2h0M709.1 140.4h0M724.1 139.3h0M666.9 149.3h0M664.9 144.4h0M709.2 182.6h0M729.9 177.4h0M712.0 169.7h0M702.2 167.1h0M681.8 151.5h0M679.2 156.7h0M684.5 148.0h0M666.4 147.6h0M693.5 157.3h0M703.8 149.6h0M679.5 149.0h0M709.7 130.7h0M674.3 192.6h0M715.0 196.7h0M668.2 134.0h0M673.2 127.2h0M696.2 163.8h0M667.0 144.0h0M724.3 135.9h0M742.0 171.8h0M702.0 117.5h0M739.5 164.0h0M711.0 193.5h0M713.3 122.1h0M740.9 193.6h0M765.8 222.7h0M777.3 229.6h0M746.3 216.9h0M751.9 185.1h0M766.8 206.3h0M764.5 241.1h0M751.3 203.5h0M742.2 203.5h0M761.2 195.5h0M775.8 244.3h0M772.3 240.9h0M743.4 207.6h0M749.7 212.4h0M775.5 250.4h0M767.6 257.1h0M755.2 196.2h0M743.9 218.0h0M775.8 244.6h0M776.9 233.9h0M768.7 255.2h0M777.9 227.1h0M782.6 253.6h0M740.7 201.4h0M765.3 218.1h0M745.7 202.2h0M773.5 211.4h0M743.6 212.8h0M784.3 218.5h0M753.0 207.3h0M780.1 210.1h0M784.7 246.1h0M776.0 247.6h0M770.1 210.9h0M742.8 212.6h0M760.6 238.9h0M731.5 199.1h0M765.4 251.8h0M774.3 205.0h0M777.9 257.8h0M765.2 228.8h0M754.9 241.5h0M757.0 240.7h0M764.0 206.6h0M740.6 197.2h0M738.7 204.7h0M743.9 222.5h0M747.5 190.9h0M755.1 205.7h0M749.6 228.4h0M746.6 217.2h0M780.8 224.1h0M742.5 188.5h0M778.5 210.0h0M734.6 188.1h0M745.9 215.3h0M773.0 235.9h0M734.5 177.0h0M768.3 200.5h0M769.3 208.7h0M734.1 178.7h0M736.0 194.0h0M758.0 208.1h0M798.6 238.6h0M803.3 234.6h0M792.6 221.8h0M791.8 249.5h0M791.4 239.7h0M790.3 225.0h0M813.6 217.5h0M808.1 232.6h0M814.6 222.0h0M822.3 220.2h0M816.5 226.2h0M801.4 239.4h0M816.7 224.0h0M809.7 229.6h0M820.2 230.4h0M802.3 231.7h0M811.0 238.5h0M790.7 237.4h0M799.5 243.5h0M793.8 213.5h0M789.3 218.0h0M830.2 281.5h0M798.6 306.8h0M812.3 276.8h0M828.3 287.2h0M806.1 288.7h0M807.3 278.4h0M787.0 271.4h0M838.2 283.9h0M809.5 276.8h0M797.1 313.6h0M800.9 313.0h0M832.7 285.9h0M803.7 293.9h0M823.6 288.0h0M799.0 299.2h0M790.4 312.7h0M790.7 287.0h0M791.3 271.2h0M787.0 274.0h0M826.5 287.8h0M803.9 287.0h0M809.2 293.1h0M798.6 272.7h0M785.6 279.5h0M790.7 290.5h0M788.3 295.8h0M796.6 315.8h0M774.6 266.2h0M775.2 295.4h0M809.5 280.1h0M788.2 316.7h0M795.8 293.8h0M778.4 309.7h0M836.9 289.9h0M773.6 270.3h0M817.4 288.9h0M781.5 303.6h0M776.8 299.3h0M818.4 289.8h0M789.2 273.4h0M797.2 285.0h0M831.5 282.4h0M824.2 283.0h0M786.1 306.5h0M792.5 282.2h0M775.6 305.9h0M779.2 277.1h0M783.4 306.3h0M834.3 284.4h0M813.1 280.7h0M779.4 298.5h0M830.0 280.7h0M788.8 306.9h0M780.6 275.2h0M772.6 300.9h0M788.1 291.2h0M790.1 316.4h0M795.6 318.2h0M805.4 310.2h0M834.8 296.1h0M829.3 282.5h0M779.3 288.7h0M818.0 297.2h0M573.4 219.4h0M561.8 246.9h0M537.7 225.5h0M581.4 234.1h0M564.0 241.1h0M548.7 231.8h0M568.0 222.5h0M568.3 223.3h0M554.4 219.2h0M570.8 242.2h0M542.0 254.9h0M588.9 235.1h0M558.9 223.8h0M570.0 245.8h0M581.0 241.1h0M543.7 232.4h0M554.9 237.6h0M559.4 231.3h0M573.1 219.2h0M548.2 251.1h0M561.3 236.1h0M548.8 240.7h0M576.2 233.3h0M555.1 216.2h0M570.0 217.9h0M551.0 246.8h0M562.6 231.1h0M557.0 227.5h0M549.3 240.5h0M552.7 221.0h0M550.4 247.3h0M547.5 249.7h0M543.3 215.5h0M595.3 231.6h0M547.5 221.9h0M538.4 237.0h0M552.7 213.2h0M539.5 250.0h0M562.4 222.9h0M555.7 243.2h0M555.6 215.0h0M593.1 234.6h0M571.1 244.3h0M579.6 221.2h0M542.5 218.4h0M560.2 244.9h0M543.9 256.1h0M545.7 225.5h0M559.6 233.4h0M565.2 219.6h0M559.0 239.7h0M541.5 234.3h0M559.4 233.7h0M571.2 226.9h0M564.4 229.0h0M566.7 233.1h0M573.8 218.1h0M593.6 235.7h0M553.2 239.5h0M579.1 228.4h0M536.7 239.8h0M540.4 253.7h0M571.2 221.1h0M554.1 245.5h0M560.5 228.1h0M567.7 228.5h0M544.7 246.5h0M556.1 246.8h0M638.8 240.8h0M638.7 243.4h0M655.4 244.6h0M661.9 243.9h0M662.6 247.5h0M655.0 248.7h0M687.2 253.1h0M687.3 251.8h0M668.9 238.8h0M696.3 236.2h0M673.8 251.9h0M706.5 247.3h0M679.5 237.5h0M684.8 247.3h0M697.0 254.7h0M663.9 232.3h0M677.4 244.0h0M711.1 250.2h0M663.9 237.7h0M671.2 230.1h0M693.1 255.4h0M704.4 246.7h0M682.4 250.3h0M667.5 241.9h0M676.5 235.5h0M672.4 232.1h0M685.9 232.3h0M697.8 250.0h0M708.7 247.0h0M703.4 245.5h0M698.3 254.5h0M668.5 240.9h0M698.6 234.2h0M695.3 246.5h0M694.1 235.0h0M680.8 246.4h0M673.6 215.4h0M678.9 202.3h0M682.9 210.7h0M674.8 204.2h0M673.8 218.7h0M689.3 203.5h0M680.3 209.1h0M708.5 235.5h0M735.3 240.0h0M717.1 265.3h0M739.2 268.3h0M729.8 265.3h0M743.6 270.2h0M714.2 264.2h0M525.0 238.0h0M772.0 255.0h0M502.6 388.0h0M398.8 394.5h0M407.2 389.8h0M408.1 396.7h0M410.8 404.7h0M386.2 393.4h0M423.6 402.3h0M425.8 400.1h0M427.6 389.0h0M428.1 396.8h0M420.6 397.3h0M425.8 395.7h0M430.2 401.9h0M444.0 394.9h0M448.8 394.2h0M416.1 391.8h0M422.4 393.4h0M428.0 393.4h0M443.4 389.9h0M428.1 390.8h0M444.0 390.8h0M428.3 403.9h0M452.0 395.5h0M412.7 420.6h0M404.8 424.7h0M391.2 413.0h0M398.3 430.2h0M392.8 410.2h0M395.6 422.2h0M466.8 426.1h0M435.8 414.8h0M447.6 413.5h0M479.8 437.6h0M474.7 427.9h0M483.4 445.6h0M475.2 436.4h0M452.1 414.0h0M525.9 456.9h0M441.8 446.4h0M536.0 464.3h0M502.9 464.8h0M524.1 449.9h0M527.4 460.2h0M480.7 456.7h0M530.6 457.0h0M476.7 457.4h0M513.3 446.7h0M498.2 457.1h0M492.7 462.8h0M511.9 467.9h0M529.4 444.8h0M511.7 457.7h0M466.6 454.4h0M489.8 444.1h0M513.9 456.7h0M459.7 444.3h0M471.7 458.4h0M536.9 463.2h0M479.6 451.1h0M447.9 444.5h0M520.4 457.0h0M459.0 449.1h0M499.9 458.0h0M486.0 450.9h0M500.7 465.1h0M505.2 468.1h0M480.5 442.7h0M524.0 445.2h0M512.3 463.1h0M512.7 468.3h0M539.4 449.5h0M516.3 443.5h0M444.9 445.4h0M533.3 457.0h0M469.5 454.7h0M513.9 453.5h0M537.4 500.7h0M568.5 477.5h0M538.9 470.7h0M532.8 476.5h0M546.6 483.3h0M531.3 486.9h0M532.6 498.7h0M567.7 480.5h0M556.8 482.7h0M567.2 495.1h0M571.0 495.6h0M544.2 469.2h0M566.3 483.3h0M566.2 479.3h0M646.7 427.0h0M577.2 454.4h0M640.5 424.4h0M658.3 442.4h0M618.9 445.6h0M562.5 463.8h0M625.9 447.5h0M631.9 445.1h0M596.6 454.5h0M594.0 424.7h0M649.0 435.1h0M599.3 433.9h0M608.6 454.2h0M581.5 451.0h0M673.0 434.5h0M602.8 465.7h0M662.2 454.7h0M629.3 419.0h0M607.3 444.2h0M633.6 427.0h0M655.5 449.4h0M551.4 458.5h0M552.9 447.9h0M568.8 460.7h0M568.6 451.6h0M631.9 421.5h0M585.8 439.2h0M609.8 445.6h0M569.1 458.1h0M659.4 459.5h0M559.7 461.8h0M652.1 451.5h0M654.7 441.3h0M667.0 460.9h0M610.7 428.4h0M593.0 426.2h0M583.7 436.0h0M644.6 433.1h0M603.5 464.3h0M605.5 419.6h0M591.8 437.8h0M598.5 445.2h0M586.6 469.6h0M670.7 450.8h0M634.4 457.6h0M636.7 442.7h0M559.0 458.0h0M669.7 448.2h0M625.2 423.8h0M601.7 436.8h0M562.9 448.9h0M645.2 423.4h0M564.6 437.0h0M649.6 448.4h0M629.2 445.6h0M571.8 463.0h0M595.9 427.6h0M660.3 430.2h0M626.0 422.4h0M642.3 451.7h0M601.8 420.2h0M652.4 445.4h0M514.3 417.0h0M510.8 425.4h0M525.7 422.1h0M627.2 403.8h0M594.3 402.5h0M603.9 397.1h0M595.5 414.9h0M599.6 395.2h0M609.2 412.8h0M629.7 417.5h0M612.2 414.9h0M615.7 401.1h0M612.0 393.0h0M617.0 398.8h0M623.1 417.0h0M615.1 400.1h0M606.2 392.8h0M602.0 392.4h0M630.2 421.6h0M608.3 381.6h0M591.8 396.4h0M676.8 441.1h0M682.5 424.8h0M693.2 433.4h0M705.7 450.5h0M700.1 431.3h0M690.0 427.8h0M712.7 453.0h0M684.2 432.9h0M711.0 447.8h0M703.2 454.2h0M703.9 457.3h0M695.0 446.8h0M700.4 435.5h0M705.3 472.0h0M691.4 443.4h0M703.1 453.9h0M696.3 431.4h0M682.6 454.9h0M719.9 472.5h0M717.1 468.7h0M682.8 461.0h0M677.6 427.0h0M678.8 456.6h0M678.7 450.8h0M677.7 429.9h0M690.6 433.8h0M685.8 431.4h0M685.4 456.8h0M692.9 458.1h0M682.8 443.6h0M700.2 472.6h0M686.0 462.5h0M708.3 443.2h0M681.6 429.3h0M687.3 432.6h0M684.7 423.0h0M679.9 449.8h0M684.9 452.2h0M716.0 445.7h0M681.6 421.3h0M684.9 426.1h0M685.2 459.1h0M721.6 456.6h0M711.2 475.6h0M503.8 516.6h0M515.6 514.5h0M520.6 493.1h0M515.4 505.9h0M513.4 482.5h0M496.1 518.1h0M517.3 484.3h0M486.4 490.9h0M509.0 469.9h0M479.1 543.1h0M510.9 532.2h0M444.8 535.8h0M495.3 526.3h0M507.9 554.0h0M498.3 503.6h0M480.3 554.2h0M501.3 485.2h0M504.0 483.3h0M460.2 542.8h0M461.1 532.2h0M492.1 474.3h0M459.8 560.7h0M506.8 560.7h0M510.7 549.9h0M497.1 526.3h0M473.5 543.2h0M508.6 503.2h0M463.2 555.6h0M496.6 559.3h0M511.1 507.4h0M455.5 554.4h0M463.8 531.3h0M517.7 556.8h0M492.8 501.5h0M444.5 530.4h0M481.1 501.0h0M506.3 520.5h0M430.2 543.7h0M502.1 490.6h0M525.6 530.7h0M509.1 486.0h0M456.5 524.2h0M506.9 480.1h0M435.8 557.2h0M505.5 483.8h0M447.4 522.7h0M517.1 502.3h0M463.5 542.4h0M482.2 510.3h0M478.5 524.5h0M450.1 523.6h0M496.4 554.3h0M513.5 534.9h0M523.3 520.1h0M449.5 530.6h0M483.6 492.5h0M486.3 554.1h0M490.1 487.2h0M466.0 547.8h0M463.2 550.2h0M504.3 525.2h0M437.6 550.3h0M503.6 536.5h0M457.6 570.1h0M481.8 586.5h0M428.7 565.2h0M497.4 569.4h0M452.7 591.7h0M484.6 567.2h0M507.5 567.9h0M466.2 588.1h0M461.6 578.4h0M484.2 591.5h0M467.6 564.6h0M459.6 569.9h0M429.3 572.5h0M480.8 574.9h0M496.9 581.2h0M476.3 567.9h0M464.8 578.3h0M478.2 583.3h0M460.0 579.6h0M494.8 579.9h0M449.9 582.0h0M447.6 572.9h0M449.7 579.4h0M453.2 584.7h0M450.5 563.5h0M465.2 577.4h0M467.7 564.4h0M449.6 577.0h0M495.9 580.0h0M457.9 585.6h0M478.1 583.0h0M485.6 580.2h0M173.4 563.5h0M194.1 562.3h0M156.9 537.0h0M206.2 535.2h0M170.8 542.8h0M210.1 562.4h0M190.9 532.4h0M211.7 520.9h0M224.2 527.8h0M163.3 552.4h0M164.3 532.9h0M184.4 517.1h0M154.4 537.8h0M213.0 571.5h0M166.6 558.5h0M222.3 572.2h0M217.1 508.4h0M189.6 550.4h0M185.9 548.1h0M210.4 522.0h0M220.7 539.7h0M190.7 522.9h0M212.3 527.6h0M224.4 541.6h0M213.6 517.2h0M168.9 556.3h0M173.0 533.9h0M160.4 546.6h0M181.9 527.3h0M220.3 549.0h0M158.6 547.2h0M162.2 556.8h0M150.0 541.1h0M185.7 539.5h0M180.9 528.4h0M165.9 537.5h0M208.5 548.2h0M207.6 541.3h0M187.3 513.0h0M182.5 553.9h0M175.9 550.0h0M205.7 522.0h0M203.5 563.6h0M209.2 507.0h0M217.0 527.6h0M187.4 515.9h0M197.0 528.2h0M188.5 539.3h0M202.4 524.7h0M188.9 550.6h0M180.5 556.1h0M196.6 538.1h0M225.5 545.9h0M183.1 552.1h0M267.4 530.5h0M240.5 565.3h0M244.2 552.4h0M271.1 530.0h0M238.2 526.2h0M232.8 511.0h0M263.6 540.0h0M233.0 575.3h0M251.2 503.8h0M278.0 532.8h0M246.7 500.4h0M232.2 542.1h0M228.4 563.0h0M243.2 528.1h0M232.4 549.8h0M236.7 522.5h0M230.7 569.8h0M253.7 526.7h0M227.0 574.0h0M253.0 494.9h0M258.6 492.6h0M252.3 529.2h0M256.0 532.0h0M227.4 540.7h0M277.2 532.8h0M229.2 514.3h0M256.1 544.0h0M235.0 506.9h0M246.0 506.1h0M227.5 561.3h0M258.8 536.6h0M251.5 539.0h0M243.9 533.3h0M247.4 532.4h0M748.2 537.1h0M748.5 543.6h0M752.3 550.1h0M740.6 537.4h0M745.4 553.4h0M752.7 555.9h0M746.4 537.1h0M768.6 583.0h0M739.0 588.6h0M733.6 599.1h0M773.9 589.2h0M756.8 587.8h0M723.6 592.5h0M715.6 586.9h0M776.4 592.2h0M709.4 585.5h0M706.9 579.6h0M758.7 599.4h0M754.3 595.5h0M758.3 602.0h0M776.9 589.3h0M720.1 588.8h0M721.7 589.3h0M761.4 599.0h0M774.4 598.4h0M785.5 579.9h0M702.8 578.6h0M757.4 596.2h0M768.0 591.6h0M720.7 589.1h0M778.6 582.4h0M733.2 599.6h0M770.9 601.1h0M771.6 595.6h0M738.5 592.1h0M729.8 592.4h0M752.0 590.6h0M756.4 597.4h0M769.0 590.5h0M736.9 589.9h0M733.8 588.8h0M710.3 587.1h0M760.3 591.3h0M730.0 552.0h0M730.0 565.0h0M787.0 567.0h0M917.5 536.5h0M903.3 554.0h0M901.8 556.4h0M900.6 559.0h0M899.4 561.5h0M898.2 564.1h0M896.9 566.6h0M895.5 572.1h0M895.1 577.7h0M914.6 559.4h0M912.5 580.2h0M893.8 433.3h0M948.1 759.9h0M940.7 770.6h0M941.2 758.0h0M940.4 751.3h0M974.5 704.2h0M1036.8 684.5h0M940.8 687.2h0M967.6 736.7h0M986.4 677.4h0M1032.5 694.0h0M1037.5 687.4h0M1013.1 737.8h0M953.7 775.1h0M1015.4 729.6h0M920.7 752.4h0M1023.7 693.8h0M1045.7 665.6h0M983.1 656.5h0M1057.5 672.5h0M951.8 719.9h0M967.9 678.9h0M987.4 704.5h0M1003.0 718.9h0M971.0 663.7h0M1038.9 711.0h0M970.8 748.6h0M1011.7 747.4h0M944.9 706.0h0M951.5 714.2h0M940.0 686.4h0M970.3 666.4h0M1023.4 680.0h0M974.1 700.4h0M1052.4 653.8h0M1023.2 742.1h0M932.8 759.4h0M1017.1 637.4h0M993.7 650.6h0M1040.0 647.0h0M930.4 713.9h0M999.6 728.8h0M950.3 696.4h0M943.8 738.7h0M978.4 651.2h0M960.3 685.7h0M974.1 735.9h0M929.8 777.9h0M981.2 770.3h0M983.3 655.1h0M946.1 733.6h0M972.5 751.1h0M1002.9 657.9h0M933.0 738.3h0M954.2 716.2h0M973.9 753.0h0M984.0 647.6h0M1029.4 706.6h0M973.9 688.2h0M1007.0 652.3h0M989.1 755.6h0M939.8 741.5h0M1032.1 686.5h0M994.0 692.6h0M961.8 680.0h0M984.6 717.3h0M980.6 652.2h0M1019.7 718.8h0M1037.0 690.0h0M1007.6 736.5h0M1026.0 641.6h0M982.2 662.1h0M955.0 663.6h0M922.0 748.7h0M1040.9 659.7h0M979.1 714.7h0M989.9 716.1h0M1018.7 676.9h0M967.6 722.4h0M985.1 765.7h0M969.9 764.1h0M959.8 736.3h0M981.7 682.4h0M948.4 720.1h0M981.9 776.7h0M932.2 776.2h0M938.7 762.0h0M998.3 720.5h0M945.9 750.2h0M945.6 772.7h0M980.4 727.4h0M1025.1 685.9h0M1003.1 662.2h0M967.0 645.0h0M1040.2 645.3h0M997.3 686.1h0M1044.4 657.4h0M964.7 682.5h0M1013.4 713.0h0M944.6 725.4h0M997.2 662.2h0M968.5 755.1h0M1049.7 648.8h0M1010.1 693.1h0M1004.5 623.3h0M966.8 751.8h0M962.0 772.3h0M981.9 683.6h0M936.7 684.6h0M945.4 730.7h0M1005.6 627.4h0M1019.2 631.5h0M1012.0 756.0h0M972.1 717.6h0M975.5 735.9h0M962.1 704.1h0M992.7 642.5h0M952.2 667.2h0M1002.2 682.2h0M963.5 724.3h0M965.4 687.4h0M1041.3 671.5h0M1000.6 769.2h0M975.8 733.9h0M1034.3 729.4h0M994.3 671.4h0M946.6 754.3h0M958.1 689.4h0M959.1 761.3h0M960.8 779.4h0M937.5 720.8h0M981.4 763.6h0M1013.7 739.3h0M1004.2 746.5h0M1031.1 641.7h0M930.8 705.4h0M1029.4 724.1h0M944.7 685.1h0M997.3 729.5h0M960.7 768.2h0M931.0 776.8h0M965.9 674.2h0M1030.5 718.0h0M970.1 704.8h0M996.2 726.3h0M920.3 758.7h0M991.3 682.7h0M924.1 741.3h0M971.7 697.8h0M974.4 665.7h0M950.8 776.0h0M951.4 713.2h0M936.6 723.8h0M1025.3 630.6h0M972.2 646.3h0M1012.7 710.3h0M1030.4 702.5h0M969.2 720.0h0M963.1 688.2h0M1008.7 628.3h0M1007.5 757.2h0M962.6 645.9h0M922.4 768.0h0M995.0 729.4h0M996.7 655.8h0M961.6 661.0h0M1023.6 705.9h0M1033.7 631.8h0M1014.3 628.1h0M1036.6 702.9h0M963.0 751.0h0M934.7 756.5h0M1009.3 745.2h0M988.1 759.2h0M1004.4 715.4h0M926.1 738.2h0M948.4 693.7h0M986.4 733.3h0M1020.3 630.7h0M992.0 680.2h0M999.3 771.1h0M1000.2 642.8h0M1001.2 690.3h0M951.8 678.5h0M971.5 669.7h0M976.6 689.6h0M937.8 702.9h0M937.7 765.4h0M981.2 656.1h0M923.4 729.3h0M956.4 690.2h0M977.6 730.5h0M937.7 760.4h0M1004.3 681.3h0M974.6 692.0h0M926.3 750.7h0M1024.4 660.0h0M955.7 747.0h0M1015.7 664.4h0M983.8 634.0h0M965.0 761.9h0M1015.0 704.9h0M993.3 713.9h0M995.1 643.5h0M1042.6 661.2h0M1046.6 670.9h0M956.4 757.9h0M986.5 736.2h0M938.7 721.9h0M962.0 728.3h0M940.4 747.4h0M1044.8 648.6h0M1048.8 683.9h0M953.5 712.0h0M972.8 685.1h0M997.0 742.7h0M1013.1 641.2h0M971.0 774.3h0M1040.7 676.3h0M1033.4 685.0h0M961.4 715.6h0M1027.7 744.0h0M963.0 676.4h0M973.0 643.2h0M1001.0 760.8h0M1001.7 758.6h0M1031.8 643.6h0M1008.7 725.9h0M978.7 645.8h0M967.9 745.2h0M954.5 738.5h0M974.8 755.8h0M991.7 634.3h0M939.1 753.1h0M997.8 710.7h0M950.0 742.7h0M965.3 668.9h0M919.9 774.3h0M1004.8 638.8h0M984.0 632.7h0M992.6 729.3h0M937.5 774.6h0M982.0 652.1h0M965.0 740.1h0M976.3 754.2h0M1048.5 685.2h0M950.9 669.3h0M959.4 687.4h0M1016.5 742.2h0M1006.5 687.4h0M1030.8 670.6h0M1020.0 724.5h0M947.6 708.8h0M1008.1 705.3h0M934.1 771.0h0M997.8 722.1h0M949.7 719.3h0M1001.2 771.6h0M945.5 759.1h0M989.0 741.6h0M974.6 657.6h0M1023.9 753.4h0M983.9 729.5h0M1017.7 676.1h0M1006.4 693.6h0M1015.5 742.6h0M941.1 731.9h0M996.6 686.2h0M1060.3 673.5h0M962.8 772.6h0M984.2 738.8h0M981.5 641.3h0M957.4 711.5h0M990.7 771.7h0M1030.3 650.9h0M958.3 648.1h0M976.2 713.8h0M1039.3 695.9h0M1005.4 652.7h0M1014.8 756.5h0M963.3 644.8h0M962.4 732.7h0M992.1 707.4h0M985.0 712.2h0M955.4 712.3h0M991.1 686.2h0M1032.7 722.0h0M1031.2 698.4h0M981.8 671.7h0M992.9 651.7h0M1053.3 680.7h0M1000.6 721.2h0M1015.3 669.6h0M1018.3 697.9h0M973.1 692.7h0M1010.3 663.3h0M1017.6 626.4h0M1009.9 640.2h0M960.1 704.6h0M947.6 699.6h0M963.5 646.6h0M947.9 756.6h0M988.8 651.0h0M1039.7 642.7h0M1004.1 753.3h0M964.3 666.0h0M948.8 672.8h0M971.0 719.9h0M1048.8 682.9h0M989.1 747.9h0M948.9 719.0h0M1018.7 629.9h0M976.4 715.6h0M1046.5 672.8h0M958.7 646.2h0M1004.7 717.6h0M1001.2 651.0h0M948.1 665.6h0M1023.8 757.8h0M943.8 732.2h0M1049.1 656.2h0M906.5 716.5h0M901.9 688.4h0M915.5 699.3h0M906.6 692.9h0M905.1 686.7h0M904.0 705.6h0M911.8 704.2h0M909.5 690.7h0M917.6 708.9h0M910.5 696.6h0M422.4 837.0h0M335.9 725.5h0M324.5 816.0h0M365.1 726.5h0M315.4 820.2h0M397.0 807.9h0M315.7 774.6h0M330.9 858.9h0M365.8 740.0h0M332.4 810.1h0M383.0 826.6h0M303.9 850.5h0M438.0 865.1h0M317.4 838.4h0M359.3 842.1h0M380.3 810.2h0M384.1 763.4h0M326.5 795.4h0M433.8 847.0h0M435.3 842.8h0M379.5 771.7h0M415.6 823.1h0M450.9 839.4h0M343.9 788.8h0M329.2 841.2h0M381.4 762.7h0M340.7 846.9h0M397.5 808.3h0M333.3 836.3h0M386.5 766.4h0M385.1 814.4h0M351.3 741.5h0M369.4 805.6h0M324.5 828.2h0M301.1 835.6h0M322.8 802.8h0M332.8 854.9h0M332.3 781.9h0M332.8 854.6h0M419.2 818.5h0M367.6 787.5h0M348.6 746.8h0M429.3 822.6h0M357.5 822.0h0M380.7 735.0h0M322.7 821.4h0M330.9 731.7h0M381.1 866.2h0M329.8 768.3h0M352.2 850.3h0M315.1 812.5h0M319.4 844.6h0M417.5 844.4h0M362.0 759.5h0M389.3 764.1h0M328.6 740.8h0M342.0 780.6h0M337.2 779.8h0M363.6 811.9h0M356.8 845.9h0M373.9 728.0h0M305.2 815.1h0M342.3 836.6h0M336.1 856.3h0M366.4 871.1h0M328.9 815.5h0M334.4 819.9h0M315.7 778.9h0M334.2 749.4h0M359.6 856.8h0M337.4 811.5h0M359.3 865.1h0M332.2 774.5h0M336.3 744.6h0M376.0 831.3h0M305.4 844.6h0M341.7 863.6h0M343.7 785.3h0M467.5 855.5h0M322.1 841.1h0M324.7 774.7h0M381.8 855.5h0M383.8 857.7h0M354.1 757.1h0M332.2 731.9h0M308.6 805.9h0M383.0 735.3h0M341.3 732.1h0M378.1 817.3h0M367.4 820.5h0M354.0 843.0h0M398.3 779.3h0M409.8 835.3h0M369.9 737.5h0M331.6 812.7h0M314.5 813.1h0M355.8 862.5h0M400.7 816.7h0M379.3 745.1h0M323.7 821.1h0M355.3 829.4h0M376.9 741.4h0M329.7 780.5h0M348.3 848.7h0M388.3 773.1h0M403.8 839.6h0M310.2 793.1h0M349.6 771.3h0M378.1 792.1h0M469.0 866.4h0M397.9 812.8h0M377.7 864.3h0M354.3 854.5h0M363.9 764.7h0M456.0 862.5h0M305.3 793.1h0M388.2 867.6h0M391.8 765.5h0M449.5 859.2h0M335.8 800.0h0M354.0 858.1h0M317.3 778.8h0M292.6 838.1h0M297.9 843.4h0M396.6 851.5h0M348.7 864.8h0M396.2 814.5h0M332.4 840.1h0M460.7 856.7h0M334.1 822.7h0M347.1 761.8h0M381.7 827.0h0M353.8 828.0h0M378.4 745.7h0M335.6 865.6h0M422.0 827.5h0M451.0 843.5h0M392.1 833.4h0M394.8 775.2h0M462.7 861.5h0M360.0 822.4h0M425.5 853.0h0M399.7 850.7h0M502.2 871.6h0M474.5 869.1h0M460.9 853.8h0M470.3 859.8h0M448.0 838.5h0M477.3 863.8h0M489.6 867.4h0M448.9 840.4h0M445.4 846.0h0M460.5 860.5h0M424.3 833.5h0M448.6 857.5h0M486.5 866.5h0M505.9 878.3h0M452.3 843.7h0M444.4 846.2h0M419.0 843.0h0M423.9 837.5h0M486.0 867.1h0M509.3 917.2h0M615.9 644.7h0M616.1 698.1h0M598.1 687.5h0M610.1 706.3h0M603.6 668.6h0M623.5 702.7h0M640.7 696.8h0M607.7 653.2h0M630.3 690.1h0M600.0 682.2h0M615.7 685.4h0M622.1 693.9h0M631.2 705.7h0M602.1 656.5h0M628.4 683.4h0M597.3 668.2h0M642.3 677.0h0M638.3 694.1h0M622.7 687.7h0M633.1 668.6h0M600.7 678.8h0M610.5 654.6h0M606.2 648.3h0M640.5 684.7h0M596.5 678.3h0M606.9 697.9h0M641.9 685.8h0M639.6 665.0h0M637.1 675.2h0M643.9 677.6h0M621.1 696.7h0M634.7 691.2h0M621.2 692.5h0M596.2 683.6h0M605.4 651.6h0M611.2 702.5h0M611.0 665.0h0M599.8 653.8h0M617.9 650.8h0M639.2 679.4h0M639.0 675.8h0M619.8 670.1h0M629.5 708.0h0M608.9 645.6h0M627.2 677.6h0M614.1 652.3h0M623.6 661.2h0M631.7 701.0h0M611.2 659.3h0M625.4 667.2h0M678.9 727.3h0M652.7 699.4h0M674.9 733.8h0M672.1 712.3h0M651.5 698.1h0M652.7 702.3h0M673.4 720.4h0M677.5 723.9h0M591.9 731.0h0M587.0 733.0h0M597.6 716.7h0M595.9 714.8h0M555.0 781.9h0M550.8 770.6h0M561.3 783.0h0M566.8 773.5h0M552.8 774.1h0M549.5 775.6h0M568.2 775.8h0M550.0 771.5h0M545.8 767.1h0M544.6 767.2h0M552.0 790.8h0M749.0 796.0h0M733.0 820.0h0M610.0 841.0h0M712.3 838.3h0M712.8 840.7h0M726.6 845.6h0M724.2 846.4h0M738.2 843.3h0M720.3 855.9h0M635.8 909.6h0M629.1 892.1h0M632.3 898.0h0M631.5 919.6h0M626.8 885.1h0M625.6 888.1h0M634.8 906.1h0M635.6 912.1h0M692.3 929.3h0M705.0 933.8h0M668.0 920.0h0M725.5 938.9h0M437.0 1044.0h0"/>
<path stroke="#A886E8" d="M731.2 167.1h0M717.7 159.4h0M686.3 154.4h0M724.1 169.9h0M685.9 147.2h0M692.8 126.8h0M682.9 136.2h0M694.7 162.0h0M698.3 162.4h0M776.3 218.1h0M791.1 216.1h0M756.2 222.8h0M770.8 214.0h0M775.3 245.4h0M781.6 213.1h0M739.2 187.1h0M824.6 226.9h0M809.1 241.4h0M806.0 236.5h0M810.4 229.7h0M791.0 240.1h0M796.7 240.6h0M808.6 236.6h0M802.8 246.8h0M799.6 246.1h0M823.5 226.9h0M805.1 218.3h0M805.0 231.5h0M795.3 213.4h0M810.8 238.8h0M780.2 288.0h0M812.6 294.7h0M785.5 296.3h0M794.8 291.1h0M777.1 303.5h0M780.3 273.9h0M791.2 284.8h0M779.0 286.4h0M797.7 295.5h0M794.0 293.5h0M787.6 316.1h0M798.0 281.0h0M787.3 297.7h0M785.0 291.1h0M785.7 312.1h0M571.3 229.5h0M554.3 232.3h0M542.9 218.2h0M537.4 240.3h0M640.6 248.2h0M602.1 239.5h0M697.8 251.8h0M693.4 250.7h0M679.3 230.5h0M691.6 251.5h0M701.0 254.2h0M683.4 236.1h0M686.4 238.6h0M703.2 248.4h0M727.5 264.1h0M717.0 265.7h0M719.7 266.1h0M550.9 303.1h0M548.9 305.2h0M543.0 315.1h0M536.3 322.1h0M740.0 267.0h0M768.0 270.0h0M480.4 353.0h0M506.0 395.0h0M392.4 387.4h0M392.7 384.0h0M397.6 405.7h0M403.9 404.5h0M429.1 392.0h0M450.0 399.5h0M400.9 413.5h0M459.1 419.3h0M472.1 424.5h0M471.5 423.3h0M489.5 459.9h0M504.9 467.3h0M510.7 467.2h0M443.1 453.2h0M446.4 444.5h0M470.8 445.0h0M501.3 462.8h0M483.1 448.4h0M536.4 457.5h0M476.5 445.5h0M515.0 450.2h0M511.8 465.7h0M445.2 448.3h0M472.4 444.4h0M442.1 446.1h0M544.3 483.7h0M569.2 494.2h0M555.5 479.0h0M531.7 474.1h0M521.1 492.7h0M538.4 497.8h0M562.9 475.0h0M530.6 484.5h0M547.0 499.0h0M517.7 486.2h0M569.6 485.5h0M550.1 474.4h0M527.6 475.2h0M561.0 496.3h0M522.4 489.3h0M532.0 478.3h0M570.7 493.8h0M576.0 476.9h0M541.3 493.9h0M552.2 500.3h0M527.8 503.0h0M593.9 421.3h0M660.6 449.1h0M650.6 459.5h0M558.9 465.5h0M633.2 441.4h0M597.9 447.9h0M604.8 445.2h0M577.3 459.2h0M582.9 453.9h0M639.4 434.3h0M554.8 445.1h0M566.1 435.5h0M569.0 434.3h0M601.2 432.0h0M568.1 466.9h0M574.3 456.1h0M622.4 451.2h0M648.8 433.4h0M639.5 460.4h0M564.9 437.5h0M509.9 423.3h0M605.8 404.2h0M608.2 392.2h0M592.4 398.1h0M594.4 405.8h0M622.0 419.3h0M598.2 402.4h0M601.8 396.6h0M608.7 403.5h0M601.5 419.3h0M691.2 433.6h0M688.2 439.3h0M699.0 455.2h0M708.0 454.1h0M704.4 458.7h0M716.4 461.5h0M500.5 480.7h0M503.7 473.1h0M501.8 488.5h0M501.8 521.4h0M518.9 492.6h0M496.9 480.7h0M492.3 507.8h0M486.3 543.3h0M428.2 558.7h0M494.0 505.1h0M467.8 560.4h0M427.0 558.8h0M487.0 548.2h0M474.0 534.2h0M516.5 512.9h0M488.6 535.8h0M471.5 535.1h0M491.0 549.1h0M501.1 524.9h0M450.6 558.5h0M516.7 556.2h0M510.1 547.3h0M447.0 557.6h0M476.7 549.3h0M452.2 523.9h0M499.9 494.5h0M513.2 506.9h0M433.2 554.2h0M430.1 551.4h0M512.7 516.3h0M430.6 569.6h0M430.4 578.3h0M490.7 568.4h0M445.1 570.8h0M474.6 575.5h0M444.7 575.9h0M469.5 589.4h0M459.7 577.6h0M473.0 594.4h0M447.7 570.5h0M568.0 534.1h0M589.0 549.2h0M553.0 515.4h0M574.3 530.1h0M565.8 524.7h0M558.0 522.5h0M551.9 519.4h0M572.8 530.7h0M573.6 538.9h0M225.5 559.5h0M221.9 561.5h0M220.9 577.1h0M212.6 572.3h0M177.7 547.0h0M217.1 517.3h0M181.3 557.3h0M198.4 534.3h0M209.9 532.1h0M215.3 551.5h0M210.9 533.9h0M199.5 542.5h0M181.7 563.9h0M216.1 506.0h0M153.1 546.4h0M190.2 523.3h0M202.5 509.7h0M191.5 525.5h0M218.9 541.2h0M217.6 541.2h0M191.8 530.6h0M211.0 567.0h0M174.5 545.7h0M172.3 541.4h0M212.0 527.7h0M195.4 515.4h0M206.9 566.1h0M181.4 549.4h0M168.2 536.4h0M204.3 531.9h0M160.7 534.8h0M190.2 532.7h0M182.1 540.3h0M225.9 531.2h0M180.2 554.7h0M223.8 546.3h0M194.7 539.3h0M214.0 514.8h0M202.2 567.2h0M193.9 544.5h0M206.3 533.1h0M180.5 553.5h0M237.8 559.0h0M257.5 496.1h0M236.6 518.1h0M235.4 517.7h0M241.5 528.8h0M232.3 528.7h0M252.8 491.9h0M262.9 533.6h0M246.2 535.4h0M228.8 540.5h0M229.6 514.1h0M235.3 531.9h0M281.5 531.1h0M232.2 542.7h0M243.2 521.6h0M237.7 555.7h0M240.0 566.4h0M228.5 538.0h0M246.9 506.3h0M245.2 521.0h0M226.9 543.2h0M235.3 572.9h0M251.7 527.3h0M230.7 537.5h0M263.1 532.1h0M236.8 567.6h0M238.1 557.3h0M239.4 519.1h0M255.5 498.8h0M235.4 527.1h0M235.7 539.7h0M267.8 533.7h0M244.6 527.5h0M257.3 494.9h0M235.0 561.4h0M254.3 526.9h0M243.3 519.1h0M236.2 514.0h0M269.6 528.1h0M236.7 551.6h0M253.9 494.4h0M226.7 571.5h0M228.8 575.3h0M278.3 531.7h0M271.4 530.3h0M249.5 543.2h0M252.4 541.1h0M248.8 536.5h0M240.5 533.3h0M247.8 530.2h0M746.8 556.8h0M748.4 537.8h0M741.3 551.5h0M741.3 540.0h0M761.1 601.6h0M722.9 597.1h0M709.6 584.8h0M725.0 558.0h0M743.0 561.0h0M742.0 538.0h0M891.0 427.5h0M1027.4 732.3h0M938.5 734.5h0M1005.5 637.2h0M927.1 744.9h0M930.0 765.2h0M1028.6 732.6h0M917.4 729.8h0M995.0 754.7h0M976.8 697.9h0M985.2 774.2h0M1034.9 717.4h0M995.6 714.4h0M952.0 760.0h0M990.2 700.6h0M973.0 700.4h0M1021.9 717.1h0M999.7 721.6h0M1033.6 652.6h0M944.3 721.8h0M994.0 655.1h0M1028.7 650.3h0M997.7 733.0h0M996.9 756.2h0M971.0 707.7h0M1030.7 661.6h0M995.8 713.1h0M1031.3 655.2h0M990.9 720.7h0M1019.5 676.6h0M907.6 705.8h0M300.2 806.3h0M369.2 816.7h0M349.5 834.1h0M293.4 828.8h0M378.1 801.2h0M336.0 732.2h0M398.3 818.3h0M322.0 829.3h0M333.5 815.9h0M367.5 838.3h0M380.7 821.1h0M358.9 835.3h0M405.7 826.1h0M303.0 855.9h0M343.3 837.5h0M375.7 729.0h0M356.7 792.0h0M376.1 825.5h0M371.8 816.6h0M334.1 807.5h0M316.7 853.5h0M317.3 861.1h0M376.6 790.0h0M430.5 843.7h0M427.3 842.9h0M341.3 800.6h0M378.7 862.3h0M311.4 856.1h0M363.5 843.8h0M331.3 841.0h0M387.3 744.0h0M327.7 862.5h0M383.5 749.9h0M350.4 798.8h0M358.5 769.4h0M329.9 745.0h0M373.0 846.2h0M432.7 839.2h0M365.8 849.8h0M326.2 776.5h0M394.6 774.7h0M337.1 786.9h0M352.2 735.3h0M322.0 784.3h0M346.7 719.2h0M428.7 830.2h0M359.2 752.4h0M389.9 804.1h0M381.9 874.3h0M351.4 777.0h0M362.5 812.6h0M368.5 746.9h0M366.5 723.9h0M322.3 758.2h0M430.5 832.7h0M326.5 786.1h0M412.8 815.6h0M366.9 868.2h0M382.0 808.6h0M346.0 860.0h0M335.8 855.0h0M362.5 743.7h0M467.3 855.4h0M299.2 822.6h0M300.9 820.9h0M390.1 859.6h0M383.2 732.5h0M363.4 749.1h0M343.6 838.8h0M332.0 827.1h0M428.5 833.8h0M458.6 852.9h0M324.4 811.1h0M364.1 843.6h0M308.5 845.9h0M454.4 855.6h0M350.9 779.1h0M343.0 846.3h0M315.6 814.6h0M387.6 847.5h0M342.3 807.2h0M373.7 826.3h0M376.9 764.9h0M423.0 823.8h0M439.2 844.9h0M375.1 774.1h0M327.2 819.5h0M450.6 858.6h0M381.9 854.5h0M329.7 835.4h0M324.7 862.2h0M313.9 829.0h0M365.0 869.3h0M346.6 783.8h0M389.8 839.4h0M293.8 836.0h0M331.3 776.6h0M369.4 762.6h0M338.9 786.8h0M452.8 862.8h0M379.2 746.0h0M370.9 751.6h0M380.6 776.6h0M293.5 841.8h0M359.0 802.9h0M317.3 790.6h0M312.4 846.7h0M402.9 843.1h0M386.9 736.0h0M331.6 825.5h0M340.1 776.2h0M375.8 836.6h0M379.4 796.7h0M325.6 748.2h0M452.6 845.8h0M348.8 819.6h0M309.8 805.1h0M371.3 871.1h0M401.0 778.8h0M369.2 808.3h0M314.1 848.4h0M422.8 851.0h0M378.1 764.2h0M329.2 748.1h0M397.1 781.7h0M342.9 751.4h0M309.6 788.7h0M443.6 870.5h0M333.0 794.1h0M308.4 846.2h0M393.4 839.9h0M390.7 772.8h0M298.5 817.8h0M320.5 781.0h0M486.1 874.1h0M502.2 875.8h0M444.2 850.0h0M505.8 876.0h0M462.6 868.5h0M451.7 841.7h0M456.5 859.9h0M508.7 923.0h0M621.1 669.0h0M608.8 688.5h0M636.9 686.4h0M635.2 679.1h0M610.7 700.5h0M607.8 682.1h0M608.1 663.8h0M643.2 690.1h0M642.4 687.9h0M643.9 672.7h0M596.7 683.3h0M642.9 675.2h0M672.9 730.9h0M581.3 748.4h0M596.6 717.7h0M586.3 740.6h0M550.6 776.9h0M561.3 766.2h0M559.8 782.5h0M808.0 776.0h0M810.0 781.0h0M708.1 841.6h0M727.8 829.8h0M710.1 831.8h0M724.8 836.1h0M713.8 838.7h0M715.7 828.2h0M725.7 837.7h0M731.7 835.0h0M717.9 849.4h0M718.4 823.7h0M709.8 845.5h0M735.7 853.6h0M710.4 843.1h0M709.7 837.5h0M622.2 879.8h0M627.4 886.6h0M624.1 880.3h0M718.6 946.6h0M713.7 938.9h0M715.7 941.6h0M533.0 992.0h0M659.0 983.0h0"/>
<path stroke="#8A61F1" d="M687.4 117.9h0M763.4 222.2h0M731.8 185.4h0M742.5 213.2h0M830.6 222.9h0M813.2 217.0h0M804.2 243.3h0M789.7 230.0h0M792.9 229.0h0M774.1 304.5h0M798.3 280.6h0M806.6 282.4h0M817.3 286.2h0M783.3 310.6h0M773.2 293.4h0M807.2 278.4h0M802.7 293.5h0M794.5 298.0h0M773.0 271.1h0M583.2 225.6h0M587.1 237.1h0M545.5 225.0h0M606.7 239.9h0M687.1 237.9h0M684.8 235.7h0M704.5 236.2h0M726.8 236.4h0M550.5 307.0h0M493.8 360.5h0M491.0 362.3h0M397.6 391.1h0M409.4 403.2h0M393.7 406.3h0M399.0 418.7h0M397.0 413.9h0M488.6 439.4h0M454.9 445.8h0M533.2 446.5h0M488.8 451.0h0M487.5 452.1h0M489.8 442.7h0M517.3 448.5h0M537.3 490.8h0M534.3 492.0h0M552.6 505.6h0M568.1 475.4h0M537.9 489.3h0M530.2 478.1h0M565.3 477.0h0M521.4 474.2h0M650.5 451.3h0M606.9 417.8h0M607.7 415.4h0M707.0 458.4h0M702.4 471.1h0M719.7 459.3h0M710.2 472.1h0M495.2 482.9h0M495.6 498.7h0M494.9 491.1h0M490.5 505.4h0M474.3 532.0h0M509.7 548.1h0M522.3 524.8h0M477.1 558.1h0M486.2 483.6h0M516.0 517.6h0M523.3 512.8h0M460.5 549.1h0M467.4 584.6h0M555.0 521.7h0M561.4 521.5h0M186.6 541.2h0M199.4 521.3h0M211.4 569.6h0M176.4 562.7h0M225.5 518.6h0M241.9 503.4h0M250.4 503.6h0M257.6 533.9h0M238.5 547.0h0M257.3 531.9h0M227.8 547.1h0M238.8 513.9h0M259.2 540.2h0M240.6 571.8h0M266.7 529.6h0M262.0 534.7h0M744.9 550.6h0M712.2 585.3h0M1023.0 652.1h0M1019.6 752.8h0M995.2 744.0h0M932.3 710.9h0M956.3 665.7h0M945.1 718.9h0M1015.2 669.8h0M937.9 695.8h0M1027.1 725.2h0M959.3 646.4h0M926.7 755.0h0M1015.9 759.8h0M1036.1 684.8h0M1001.1 636.6h0M1023.7 686.0h0M972.5 718.1h0M935.7 772.0h0M952.4 663.4h0M979.9 644.0h0M971.3 703.3h0M965.2 681.0h0M1002.7 747.0h0M930.5 727.3h0M925.1 727.2h0M1006.7 701.2h0M372.8 838.4h0M387.9 844.3h0M436.8 859.0h0M369.5 778.9h0M414.7 842.9h0M381.5 848.2h0M391.9 806.9h0M442.5 844.7h0M620.5 691.1h0M628.4 670.8h0M613.0 686.3h0M634.6 705.3h0M629.9 705.5h0M660.8 708.4h0M597.9 713.9h0M710.1 852.7h0M717.3 835.8h0M632.1 922.7h0"/>
<path stroke="#6139F9" d="M804.6 234.5h0M820.2 292.5h0M536.9 451.6h0M545.6 482.8h0M496.6 478.9h0M509.7 551.4h0M459.1 592.1h0M471.4 591.6h0M583.3 544.5h0M188.8 533.9h0M251.5 529.2h0M228.5 523.0h0M265.0 535.0h0M282.2 530.7h0M985.2 651.8h0M1004.1 668.1h0M954.5 682.4h0M1003.2 694.9h0M941.9 717.1h0M998.4 667.1h0M290.3 840.0h0M329.6 830.6h0M417.9 823.8h0M355.7 766.8h0M595.9 679.4h0M607.3 690.0h0M650.9 685.0h0M625.5 677.1h0M608.8 700.0h0M561.1 781.4h0"/>
<path stroke="#D3D3D3" d="M680.4 141.5h0M693.7 143.0h0M718.5 142.4h0M702.1 137.6h0M700.4 155.9h0M682.2 120.7h0M682.1 174.6h0M696.7 168.7h0M687.4 129.1h0M666.7 149.8h0M706.7 146.0h0M703.1 143.0h0M684.9 138.4h0M668.9 156.4h0M671.8 180.3h0M716.3 144.3h0M689.9 118.0h0M705.3 151.3h0M703.9 129.0h0M719.5 197.0h0M663.8 161.4h0M676.4 126.2h0M702.1 143.7h0M700.5 152.4h0M679.8 131.3h0M713.8 171.8h0M690.0 116.3h0M697.2 128.4h0M694.4 122.8h0M680.0 138.9h0M689.0 174.8h0M667.8 169.2h0M725.1 159.0h0M700.7 182.5h0M733.0 154.1h0M698.9 180.8h0M684.4 151.2h0M667.4 128.3h0M717.4 199.2h0M713.8 193.5h0M672.5 180.6h0M702.9 177.1h0M715.5 128.2h0M671.9 182.9h0M696.6 185.2h0M676.3 185.9h0M717.3 132.9h0M721.1 154.6h0M708.0 163.4h0M708.4 197.2h0M727.9 134.9h0M668.5 148.3h0M699.1 149.3h0M696.5 178.8h0M719.5 147.3h0M681.4 181.0h0M709.8 138.5h0M729.4 137.9h0M673.2 166.3h0M694.2 146.2h0M695.5 152.7h0M684.5 179.7h0M707.9 150.4h0M683.7 134.0h0M707.9 139.1h0M676.0 132.4h0M707.4 127.8h0M709.3 148.2h0M731.7 141.1h0M704.1 120.4h0M673.8 180.8h0M711.9 166.1h0M704.2 140.6h0M688.7 154.2h0M691.0 189.4h0M706.2 119.9h0M683.3 158.6h0M698.3 127.5h0M680.6 149.3h0M712.9 120.3h0M704.6 189.8h0M691.6 118.0h0M702.7 134.1h0M678.7 153.8h0M715.7 199.1h0M723.0 129.4h0M710.1 179.5h0M720.3 148.1h0M685.6 181.9h0M689.2 140.3h0M670.1 119.0h0M704.7 182.2h0M713.0 126.8h0M717.7 130.8h0M664.1 144.2h0M709.8 149.0h0M676.8 188.0h0M721.0 132.0h0M726.4 180.3h0M678.6 171.7h0M695.1 170.3h0M728.5 147.2h0M684.0 181.5h0M726.9 130.7h0M662.9 147.3h0M671.3 147.2h0M676.1 115.1h0M718.8 153.2h0M731.7 160.0h0M674.9 125.2h0M714.5 147.2h0M692.2 185.9h0M722.1 195.0h0M710.7 157.8h0M724.1 123.0h0M722.5 195.8h0M686.3 163.0h0M686.2 135.4h0M681.4 143.0h0M683.9 145.0h0M671.7 145.3h0M691.6 159.0h0M679.4 123.2h0M699.9 186.0h0M719.9 169.5h0M697.4 167.6h0M690.4 138.0h0M704.2 129.1h0M726.1 167.0h0M689.0 125.9h0M707.0 146.0h0M679.2 138.2h0M708.8 140.0h0M724.3 186.7h0M666.2 140.1h0M663.1 162.7h0M668.0 158.5h0M679.9 188.7h0M722.9 164.4h0M703.8 193.9h0M697.0 119.4h0M696.1 121.8h0M698.6 185.3h0M706.4 162.0h0M684.8 136.2h0M771.0 202.1h0M759.3 239.7h0M780.3 246.9h0M761.1 209.7h0M788.5 214.6h0M790.0 222.6h0M732.0 182.0h0M740.5 186.8h0M755.6 214.0h0M758.7 247.5h0M785.9 234.5h0M786.2 240.7h0M759.8 232.1h0M764.0 226.1h0M762.4 211.5h0M780.5 210.3h0M773.6 254.5h0M751.6 230.2h0M769.6 239.8h0M774.2 256.6h0M741.5 177.5h0M765.4 199.4h0M768.7 214.3h0M744.5 197.7h0M782.6 232.1h0M731.8 192.9h0M768.0 205.0h0M778.6 237.5h0M746.7 205.0h0M782.7 216.3h0M772.3 231.7h0M775.2 257.6h0M786.5 241.5h0M731.4 194.3h0M759.5 202.8h0M772.1 256.1h0M779.6 230.8h0M751.9 227.3h0M766.3 201.6h0M762.9 218.2h0M760.8 235.1h0M752.6 205.3h0M765.3 227.8h0M756.2 210.6h0M784.4 224.1h0M762.3 208.3h0M729.7 190.7h0M757.7 222.0h0M736.7 200.3h0M745.6 185.5h0M766.6 250.1h0M772.8 207.9h0M786.1 211.8h0M764.9 231.0h0M773.0 220.5h0M751.3 217.2h0M751.8 197.7h0M747.4 198.5h0M739.1 179.8h0M763.6 217.7h0M753.9 227.2h0M762.5 222.0h0M767.6 207.3h0M732.5 182.0h0M759.6 213.2h0M773.6 237.2h0M782.5 219.8h0M742.8 218.8h0M808.9 235.8h0M797.6 243.4h0M821.5 226.8h0M783.7 250.9h0M823.4 224.6h0M808.1 216.8h0M807.1 236.1h0M801.9 241.5h0M802.7 245.1h0M801.4 230.5h0M794.1 217.6h0M807.8 215.9h0M787.7 245.1h0M772.9 269.5h0M804.2 277.2h0M782.0 280.2h0M806.3 294.0h0M822.6 282.7h0M825.2 294.3h0M784.9 306.9h0M807.7 293.7h0M795.3 308.8h0M813.6 295.6h0M778.6 308.8h0M780.7 289.2h0M772.9 270.5h0M796.8 288.7h0M771.8 270.9h0M807.4 281.4h0M821.2 291.7h0M813.9 279.6h0M838.2 283.9h0M821.5 295.6h0M792.9 271.4h0M822.1 291.7h0M798.4 308.5h0M774.0 272.7h0M807.0 289.3h0M803.7 306.6h0M782.7 312.0h0M805.9 285.6h0M786.2 285.9h0M788.0 281.6h0M801.2 283.6h0M799.8 305.9h0M784.2 289.5h0M778.1 299.4h0M837.6 282.9h0M815.4 294.3h0M786.6 274.3h0M785.9 290.1h0M803.8 280.9h0M775.3 264.8h0M807.8 278.8h0M820.7 281.1h0M829.2 280.3h0M797.0 319.5h0M826.9 280.8h0M792.5 294.8h0M822.7 284.1h0M828.2 284.9h0M793.9 272.1h0M813.0 278.6h0M783.3 290.5h0M819.9 280.4h0M780.0 307.8h0M774.0 305.1h0M813.6 288.5h0M803.9 288.4h0M805.0 274.6h0M816.6 292.0h0M812.4 276.6h0M784.2 290.4h0M828.5 297.7h0M814.4 292.7h0M804.5 307.1h0M825.3 290.9h0M840.3 285.7h0M775.0 267.9h0M807.8 290.6h0M800.0 308.6h0M772.0 261.8h0M805.5 287.8h0M792.6 319.6h0M815.7 289.1h0M578.9 233.8h0M577.0 229.8h0M546.4 213.8h0M563.4 245.1h0M543.4 216.2h0M578.3 221.6h0M540.6 216.2h0M595.3 233.4h0M587.7 236.3h0M549.8 225.1h0M549.3 231.0h0M566.7 240.6h0M553.8 238.9h0M565.9 246.5h0M555.3 215.4h0M538.7 253.0h0M556.7 243.6h0M543.3 251.4h0M539.2 251.8h0M551.0 224.2h0M582.3 237.0h0M540.7 227.2h0M546.7 233.8h0M550.4 221.7h0M554.8 213.8h0M547.1 213.7h0M551.5 212.8h0M581.4 230.1h0M558.3 234.1h0M550.5 232.6h0M563.5 230.4h0M540.2 227.5h0M572.5 234.8h0M564.3 233.7h0M537.6 238.7h0M549.1 233.9h0M567.8 231.9h0M570.5 225.8h0M551.0 244.0h0M547.7 224.1h0M566.0 232.2h0M583.2 234.1h0M546.1 239.1h0M539.4 231.2h0M572.2 232.0h0M572.1 225.6h0M581.3 237.7h0M594.3 228.1h0M581.7 226.7h0M551.7 233.0h0M589.7 234.4h0M567.8 237.7h0M556.3 232.3h0M636.4 243.7h0M603.9 234.6h0M624.6 240.6h0M641.6 244.6h0M623.7 242.3h0M630.0 239.1h0M610.8 237.4h0M612.4 238.3h0M611.3 237.2h0M672.0 242.3h0M669.7 239.2h0M707.4 240.2h0M699.7 241.5h0M707.5 246.7h0M679.1 246.7h0M692.3 243.0h0M684.6 250.3h0M703.2 246.4h0M699.3 239.8h0M705.9 247.9h0M672.4 235.9h0M677.7 233.5h0M671.4 246.9h0M680.1 233.5h0M709.7 250.4h0M700.4 238.4h0M689.9 235.3h0M673.5 239.1h0M671.6 248.4h0M680.1 232.7h0M677.6 250.8h0M672.9 245.0h0M684.3 239.7h0M681.6 254.5h0M668.8 247.1h0M693.0 244.2h0M694.6 245.3h0M697.1 249.4h0M692.0 238.2h0M670.8 242.0h0M671.2 238.7h0M672.6 204.3h0M686.6 210.0h0M676.9 200.6h0M683.5 223.8h0M680.8 208.3h0M670.7 204.9h0M734.6 236.6h0M735.7 232.6h0M732.9 239.5h0M719.8 267.4h0M736.4 271.0h0M727.2 266.8h0M732.9 270.8h0M742.8 272.2h0M542.4 311.3h0M544.0 268.0h0M481.0 350.0h0M493.8 347.7h0M509.0 403.0h0M504.0 391.0h0M393.5 391.3h0M388.2 393.8h0M384.0 404.1h0M390.3 390.3h0M412.3 390.9h0M399.1 392.3h0M398.6 387.9h0M411.4 391.9h0M407.6 404.5h0M384.3 410.7h0M426.8 396.1h0M435.5 398.1h0M419.6 390.0h0M414.7 395.7h0M435.1 400.3h0M433.3 397.3h0M422.7 398.7h0M447.7 400.5h0M413.2 401.3h0M416.0 401.7h0M420.3 400.0h0M413.3 440.7h0M391.7 424.0h0M420.4 444.0h0M405.2 437.7h0M401.5 433.2h0M407.7 438.7h0M388.8 419.2h0M401.6 410.2h0M417.7 431.7h0M393.4 424.1h0M411.3 422.1h0M439.7 411.4h0M484.6 447.3h0M485.4 442.7h0M447.8 415.1h0M481.9 443.6h0M441.1 415.7h0M481.4 436.6h0M479.5 437.8h0M471.1 424.7h0M535.7 446.3h0M447.3 453.6h0M537.2 461.5h0M532.9 466.7h0M510.1 448.5h0M449.8 455.5h0M446.2 443.2h0M523.7 466.0h0M460.7 459.7h0M491.9 446.0h0M496.0 456.2h0M508.6 462.5h0M485.9 464.4h0M517.8 451.4h0M526.5 445.8h0M459.1 440.9h0M486.0 464.0h0M446.4 454.6h0M503.2 452.1h0M485.0 462.2h0M517.3 469.1h0M520.4 441.5h0M480.1 446.7h0M489.9 462.4h0M450.7 448.4h0M525.0 454.6h0M442.0 453.2h0M470.0 460.2h0M471.8 461.0h0M484.3 459.7h0M484.5 462.0h0M453.4 449.4h0M524.5 458.2h0M478.2 461.2h0M508.6 462.6h0M511.7 457.4h0M510.3 463.6h0M462.2 447.6h0M465.9 450.8h0M489.7 444.6h0M521.9 443.8h0M464.2 441.9h0M504.5 441.5h0M520.1 460.6h0M522.5 456.2h0M536.5 451.9h0M458.6 453.4h0M523.3 444.7h0M539.2 464.7h0M512.2 443.7h0M529.1 471.1h0M518.2 482.9h0M568.0 492.8h0M575.5 477.5h0M543.9 477.8h0M571.9 493.1h0M567.1 500.7h0M563.3 473.8h0M521.9 475.2h0M544.0 464.6h0M570.8 485.2h0M570.4 474.8h0M543.7 468.0h0M526.0 492.6h0M531.6 467.6h0M600.5 437.4h0M629.6 441.3h0M590.0 454.3h0M667.1 429.3h0M604.0 445.8h0M650.4 435.2h0M603.6 439.2h0M581.2 435.4h0M642.4 448.5h0M605.6 428.7h0M590.5 430.6h0M667.0 455.8h0M588.1 446.1h0M609.5 456.6h0M607.6 435.8h0M578.5 447.0h0M562.0 439.1h0M669.7 434.7h0M589.5 446.2h0M572.3 444.7h0M652.8 442.0h0M666.2 443.8h0M649.8 446.4h0M547.3 457.6h0M591.9 438.9h0M564.9 458.2h0M569.1 461.7h0M558.5 447.1h0M633.4 437.7h0M608.5 434.2h0M573.8 469.8h0M554.7 452.2h0M590.8 449.2h0M586.6 425.9h0M607.0 440.6h0M574.3 458.7h0M578.2 463.7h0M607.8 441.4h0M650.3 461.6h0M607.0 442.3h0M612.7 430.4h0M666.3 431.4h0M605.0 453.9h0M611.3 431.3h0M628.9 448.7h0M632.7 444.6h0M550.1 463.2h0M619.0 425.2h0M609.7 453.5h0M599.5 459.7h0M567.8 468.6h0M614.7 444.4h0M514.5 435.7h0M511.4 425.1h0M512.3 440.3h0M592.7 411.7h0M633.5 416.6h0M601.4 387.2h0M616.8 412.9h0M592.9 385.8h0M599.2 387.5h0M592.2 404.3h0M599.9 390.3h0M617.6 398.8h0M626.6 406.4h0M595.6 398.8h0M607.1 385.9h0M612.5 393.1h0M592.0 395.9h0M618.5 402.3h0M604.8 383.1h0M598.7 401.5h0M620.7 398.4h0M629.1 406.0h0M593.1 384.1h0M590.4 391.5h0M627.1 415.1h0M599.9 381.6h0M619.1 416.9h0M631.0 418.2h0M620.4 423.1h0M596.8 415.2h0M714.3 465.1h0M698.8 471.9h0M719.1 471.4h0M691.1 425.5h0M678.8 435.4h0M700.0 434.0h0M684.9 426.5h0M710.7 451.7h0M706.4 444.3h0M684.3 448.3h0M688.3 430.2h0M696.4 465.6h0M719.5 459.6h0M713.1 446.7h0M680.5 441.9h0M693.4 448.3h0M694.8 459.0h0M678.8 451.9h0M676.0 441.3h0M699.6 459.1h0M690.3 462.6h0M692.8 447.7h0M694.4 436.5h0M710.0 451.0h0M686.8 442.2h0M681.3 442.2h0M712.8 467.1h0M704.8 473.6h0M702.1 457.6h0M702.4 473.3h0M677.0 459.1h0M687.6 424.6h0M680.0 441.6h0M695.4 427.8h0M695.6 465.8h0M719.6 463.4h0M692.4 444.3h0M689.3 449.1h0M717.3 459.5h0M702.5 473.5h0M700.1 463.9h0M684.0 426.5h0M721.4 464.4h0M693.5 447.9h0M711.4 447.7h0M718.5 466.3h0M703.5 443.3h0M705.5 462.1h0M705.1 437.1h0M702.1 435.9h0M675.1 441.3h0M709.5 469.2h0M505.3 518.6h0M505.9 475.6h0M508.3 505.1h0M502.0 501.5h0M491.8 494.7h0M492.0 495.9h0M499.5 512.9h0M515.3 500.2h0M506.9 509.7h0M486.8 523.1h0M510.9 534.1h0M510.1 545.4h0M435.7 531.6h0M446.1 549.2h0M447.0 531.0h0M473.8 524.6h0M509.3 558.9h0M450.7 558.9h0M499.4 537.3h0M454.0 536.1h0M483.7 557.7h0M447.4 545.5h0M431.7 554.7h0M434.2 531.0h0M451.7 561.7h0M507.7 497.2h0M487.6 556.9h0M507.2 514.1h0M485.0 550.8h0M449.3 520.4h0M443.1 532.0h0M513.1 525.6h0M475.7 522.3h0M499.5 531.5h0M513.9 510.0h0M441.8 537.2h0M447.9 541.2h0M509.6 532.3h0M516.1 532.2h0M498.7 511.4h0M512.1 533.6h0M511.2 495.3h0M472.6 534.0h0M450.9 526.8h0M493.7 544.5h0M429.6 535.1h0M523.7 519.4h0M504.1 559.7h0M494.6 537.1h0M429.0 559.8h0M440.5 549.8h0M487.8 554.5h0M464.9 557.6h0M481.7 549.8h0M458.3 546.3h0M478.6 518.2h0M501.6 544.2h0M526.0 518.0h0M502.3 490.0h0M469.3 546.3h0M481.1 568.1h0M471.2 587.6h0M500.3 569.2h0M461.2 582.6h0M460.6 592.8h0M438.1 569.2h0M495.2 574.2h0M469.2 586.1h0M482.1 564.2h0M492.9 576.8h0M462.9 588.0h0M459.3 570.7h0M506.2 567.5h0M485.0 562.4h0M459.1 587.6h0M481.1 582.3h0M441.1 583.0h0M436.1 576.3h0M453.7 578.1h0M484.8 589.3h0M449.8 578.8h0M489.1 574.1h0M463.6 570.6h0M492.2 562.2h0M440.5 582.1h0M479.7 564.4h0M492.8 584.0h0M460.3 569.8h0M476.9 564.5h0M438.6 566.3h0M572.8 534.0h0M223.2 567.6h0M169.0 530.0h0M170.5 560.3h0M213.2 543.0h0M198.0 561.5h0M205.4 506.7h0M193.2 513.6h0M213.2 569.3h0M185.7 564.5h0M214.0 539.3h0M214.6 548.3h0M178.8 529.1h0M198.4 527.6h0M205.2 536.3h0M195.0 548.8h0M181.9 539.6h0M198.7 559.0h0M208.8 530.0h0M175.8 537.1h0M207.5 527.2h0M209.9 505.0h0M197.1 560.6h0M181.2 560.1h0M222.3 575.2h0M204.6 562.8h0M160.2 558.8h0M181.2 565.5h0M171.9 550.6h0M162.4 534.5h0M218.5 553.2h0M208.8 506.2h0M212.0 572.6h0M183.3 531.5h0M195.6 521.8h0M178.7 521.5h0M158.9 548.1h0M156.6 553.7h0M200.7 520.0h0M193.0 562.3h0M217.6 568.4h0M222.2 575.9h0M165.3 544.4h0M222.4 525.4h0M210.5 552.1h0M162.2 556.8h0M191.2 519.3h0M221.9 542.5h0M220.5 574.4h0M195.1 515.9h0M213.2 531.4h0M212.2 527.0h0M183.8 515.4h0M197.5 564.9h0M224.1 510.9h0M153.6 549.2h0M232.2 529.7h0M238.7 564.0h0M242.9 536.4h0M230.8 509.0h0M244.1 543.5h0M246.4 525.7h0M245.5 545.2h0M280.3 530.0h0M260.6 538.0h0M243.8 548.3h0M247.6 505.3h0M233.5 513.5h0M226.4 546.6h0M265.1 532.6h0M231.9 555.8h0M248.6 526.1h0M250.3 505.6h0M252.2 492.6h0M245.1 544.2h0M250.1 542.8h0M248.9 538.3h0M264.1 537.6h0M252.0 529.4h0M246.9 527.2h0M255.7 538.0h0M267.2 533.2h0M241.4 550.7h0M226.0 535.4h0M229.0 545.2h0M232.3 550.8h0M257.1 537.0h0M252.9 536.5h0M249.7 523.9h0M243.1 525.8h0M258.6 537.8h0M251.4 528.8h0M742.5 545.4h0M751.2 552.0h0M740.4 534.7h0M741.3 548.7h0M739.9 543.2h0M747.9 539.7h0M746.0 535.5h0M741.5 541.5h0M752.5 556.6h0M739.9 589.5h0M777.3 595.5h0M741.0 604.7h0M762.4 586.0h0M737.3 602.5h0M753.9 595.2h0M744.1 603.5h0M728.1 599.1h0M780.6 588.4h0M714.7 589.1h0M783.5 581.1h0M728.8 596.6h0M721.6 593.2h0M780.8 586.2h0M740.6 600.4h0M730.4 594.4h0M716.3 589.3h0M769.5 589.4h0M708.3 580.4h0M726.8 596.4h0M767.5 591.1h0M760.9 588.9h0M740.4 590.0h0M737.1 593.2h0M734.0 596.2h0M781.3 582.7h0M728.3 593.1h0M761.1 591.2h0M725.7 594.1h0M743.9 604.3h0M736.5 596.9h0M752.7 598.9h0M731.8 598.7h0M726.2 591.3h0M719.0 528.0h0M727.0 545.0h0M723.0 562.0h0M747.0 573.0h0M757.0 562.0h0M763.0 573.0h0M771.0 578.0h0M758.0 583.0h0M743.0 582.0h0M915.5 538.5h0M911.5 542.5h0M909.5 544.6h0M907.7 546.7h0M906.2 549.1h0M896.2 569.4h0M910.4 553.0h0M869.8 367.7h0M948.0 379.0h0M1043.7 646.9h0M945.3 770.4h0M959.5 767.8h0M1012.5 718.5h0M1011.9 675.4h0M944.7 770.6h0M1028.4 653.7h0M1010.1 743.5h0M960.3 681.6h0M1016.8 675.6h0M949.7 681.8h0M982.7 744.7h0M1029.2 678.7h0M1037.3 689.6h0M925.7 771.7h0M990.4 772.4h0M912.5 741.3h0M933.9 768.9h0M1006.1 674.5h0M1005.4 642.2h0M985.7 716.9h0M997.7 637.8h0M950.0 776.0h0M959.0 766.1h0M1006.1 631.1h0M1003.8 650.6h0M992.6 713.3h0M952.1 711.2h0M997.1 730.8h0M1029.6 693.7h0M939.8 744.1h0M1019.3 738.3h0M918.5 774.2h0M946.0 705.6h0M974.7 692.9h0M960.6 682.1h0M941.0 718.0h0M1037.8 705.0h0M990.2 759.5h0M1010.7 728.2h0M962.4 696.0h0M933.0 746.0h0M972.8 691.4h0M938.3 779.1h0M951.4 759.6h0M923.5 738.0h0M932.6 729.3h0M938.8 691.4h0M1002.6 655.0h0M994.8 750.0h0M931.1 716.5h0M916.8 722.9h0M990.2 639.9h0M1020.2 693.7h0M942.2 683.2h0M996.7 678.2h0M988.5 711.1h0M939.9 778.7h0M1004.4 667.6h0M986.0 690.3h0M988.3 697.1h0M1049.3 676.7h0M952.7 744.0h0M932.1 779.1h0M962.2 729.2h0M967.4 680.4h0M923.2 759.0h0M987.5 639.5h0M920.7 746.9h0M1017.1 640.6h0M980.2 631.6h0M990.1 753.2h0M974.9 731.3h0M940.0 771.9h0M1005.8 711.0h0M1039.0 677.7h0M1042.0 667.9h0M988.8 678.9h0M1001.1 720.1h0M968.8 691.4h0M994.7 702.9h0M962.7 673.7h0M917.1 773.9h0M934.8 736.4h0M1017.5 670.8h0M951.3 727.8h0M987.9 755.4h0M1011.0 741.3h0M1035.5 651.0h0M936.9 734.8h0M947.5 697.0h0M943.1 736.9h0M976.5 700.6h0M1043.1 689.2h0M974.2 741.8h0M1018.7 747.4h0M1022.4 702.1h0M1027.1 638.6h0M1020.9 666.9h0M953.3 677.8h0M1023.5 738.7h0M969.2 732.0h0M991.9 746.4h0M1045.0 687.9h0M1028.7 675.8h0M1014.4 682.4h0M1044.1 670.8h0M952.2 688.5h0M968.4 691.6h0M1034.6 696.9h0M1035.7 666.3h0M921.5 759.5h0M954.9 661.2h0M922.4 740.5h0M1054.5 677.8h0M992.9 734.2h0M934.2 749.1h0M942.2 736.2h0M937.4 760.1h0M942.5 697.9h0M963.5 652.7h0M944.1 723.6h0M937.6 771.6h0M1031.9 657.7h0M964.5 728.0h0M934.1 742.7h0M1011.9 740.0h0M1003.7 643.9h0M1016.5 762.5h0M1009.5 710.3h0M965.2 762.9h0M940.2 712.6h0M991.6 634.8h0M1013.8 669.8h0M919.6 728.4h0M962.0 694.7h0M968.3 701.5h0M969.7 732.6h0M1002.6 686.3h0M1038.5 650.6h0M998.8 674.2h0M1009.8 703.0h0M981.1 635.9h0M936.3 740.3h0M979.2 651.3h0M930.5 716.6h0M934.5 720.0h0M1021.6 717.1h0M958.5 774.8h0M1036.6 716.7h0M1007.5 699.5h0M974.2 773.6h0M974.6 688.1h0M967.6 720.5h0M946.9 758.8h0M987.7 711.1h0M1002.0 701.3h0M969.2 667.1h0M945.1 692.3h0M996.9 763.8h0M945.0 729.8h0M946.4 772.3h0M1014.5 702.3h0M1032.2 671.9h0M1012.5 766.3h0M1003.4 746.0h0M933.1 762.9h0M960.2 773.0h0M964.1 727.2h0M1007.5 765.2h0M1014.6 710.7h0M965.4 754.0h0M987.6 698.3h0M917.7 751.9h0M971.6 681.6h0M1004.3 693.2h0M1011.6 688.4h0M965.8 777.8h0M1033.6 687.5h0M1051.4 682.0h0M1022.6 755.9h0M995.6 734.0h0M1007.2 763.5h0M1049.2 664.9h0M913.8 728.1h0M1010.8 724.9h0M1039.9 667.6h0M1013.7 625.1h0M956.0 664.8h0M962.6 684.9h0M959.3 764.7h0M919.2 747.8h0M969.2 659.9h0M1014.4 686.2h0M1006.1 659.1h0M1021.6 675.2h0M975.0 750.6h0M933.5 721.4h0M917.3 755.5h0M1007.2 702.5h0M972.3 748.3h0M966.5 700.3h0M1006.1 661.0h0M918.5 750.0h0M987.1 746.1h0M978.6 662.6h0M930.3 713.2h0M955.8 780.5h0M991.2 688.2h0M1029.7 725.1h0M913.5 737.6h0M915.0 768.5h0M999.9 650.6h0M963.4 761.2h0M987.1 697.6h0M968.5 779.5h0M969.5 664.0h0M987.4 681.3h0M952.8 746.4h0M990.6 629.8h0M1043.3 696.3h0M982.9 665.6h0M944.2 742.7h0M1003.6 698.0h0M1011.3 761.7h0M951.3 749.2h0M961.1 685.3h0M1035.7 676.0h0M992.3 771.0h0M1031.2 727.4h0M1017.8 641.8h0M1016.5 640.7h0M1021.2 741.6h0M983.4 654.6h0M937.6 722.7h0M946.6 757.0h0M992.2 745.6h0M1040.5 676.2h0M971.2 699.3h0M926.6 737.9h0M924.2 746.2h0M1020.9 748.1h0M1008.8 680.9h0M1007.0 684.9h0M982.2 662.6h0M992.3 669.4h0M985.7 684.6h0M1052.4 647.3h0M924.2 725.7h0M920.8 745.8h0M975.5 657.8h0M977.3 775.6h0M989.6 728.0h0M980.8 711.2h0M1039.4 640.1h0M967.9 758.9h0M964.9 643.3h0M953.7 671.1h0M1013.8 726.9h0M995.4 688.3h0M1030.2 730.5h0M1038.2 642.3h0M973.0 649.8h0M983.4 739.5h0M935.2 732.0h0M993.3 718.0h0M1012.4 734.9h0M988.6 772.6h0M992.0 680.3h0M1005.6 755.6h0M971.1 733.5h0M1002.0 739.7h0M1002.0 632.4h0M1014.2 705.5h0M940.2 678.3h0M953.9 680.0h0M932.3 767.1h0M948.2 734.6h0M964.3 691.9h0M1045.1 651.5h0M1048.7 640.4h0M987.2 685.7h0M971.6 741.1h0M933.8 742.1h0M964.2 769.6h0M1005.5 669.0h0M920.2 776.7h0M983.1 667.9h0M1022.2 632.4h0M1006.5 734.0h0M1033.7 688.5h0M996.2 664.3h0M982.5 755.4h0M1025.5 732.6h0M1016.0 703.4h0M956.7 668.8h0M1024.1 699.3h0M980.8 734.0h0M968.6 728.3h0M964.2 778.1h0M922.1 743.9h0M919.8 730.7h0M993.6 736.5h0M963.3 702.2h0M1023.5 638.4h0M1024.4 642.7h0M923.3 749.5h0M1017.6 747.1h0M985.4 652.9h0M1021.8 733.4h0M1048.3 654.3h0M955.5 727.7h0M1002.8 717.0h0M916.2 701.9h0M899.0 701.8h0M914.0 695.6h0M913.0 699.3h0M896.3 694.0h0M911.8 709.5h0M917.2 704.7h0M909.7 697.4h0M900.5 701.7h0M325.5 746.2h0M301.4 817.8h0M330.4 846.1h0M328.1 753.0h0M317.3 793.3h0M360.2 830.2h0M365.4 839.3h0M404.5 822.3h0M397.0 854.3h0M389.0 800.9h0M360.3 863.6h0M388.4 775.2h0M355.4 801.2h0M305.9 829.8h0M322.9 794.9h0M390.1 791.8h0M365.5 730.9h0M364.9 859.1h0M427.8 851.6h0M324.5 829.9h0M391.9 797.0h0M436.0 858.3h0M377.6 790.0h0M367.4 811.0h0M341.0 769.5h0M297.9 838.6h0M402.8 834.5h0M431.5 830.9h0M345.4 769.6h0M364.5 849.1h0M328.9 833.3h0M351.2 765.3h0M452.3 853.8h0M345.7 788.2h0M383.8 795.0h0M326.9 738.5h0M350.6 748.3h0M316.4 814.3h0M354.0 755.7h0M382.0 868.8h0M370.8 772.4h0M469.0 867.0h0M351.4 752.7h0M382.0 798.2h0M334.4 813.5h0M408.7 830.7h0M333.9 830.9h0M447.5 867.2h0M347.1 831.0h0M318.3 799.8h0M399.5 821.5h0M401.6 823.3h0M368.4 808.5h0M333.5 767.5h0M375.0 851.5h0M306.3 837.8h0M359.1 738.2h0M345.1 782.8h0M308.4 794.0h0M412.4 836.5h0M450.6 842.5h0M310.1 813.0h0M426.1 857.1h0M351.3 859.1h0M340.0 773.9h0M316.5 800.8h0M324.0 850.5h0M393.2 809.3h0M356.9 746.8h0M313.9 787.5h0M377.2 757.7h0M359.1 798.9h0M324.8 760.7h0M356.1 851.9h0M311.3 783.3h0M451.5 864.3h0M307.2 840.1h0M290.7 840.0h0M344.9 839.0h0M349.8 796.2h0M307.1 855.7h0M332.1 783.0h0M324.9 852.3h0M357.8 846.5h0M405.7 850.0h0M364.3 761.9h0M311.3 831.9h0M363.8 788.2h0M330.6 772.7h0M306.4 825.9h0M335.1 755.2h0M380.7 824.5h0M326.2 827.3h0M365.5 740.7h0M456.3 857.1h0M336.5 782.8h0M312.4 806.6h0M333.5 786.0h0M392.3 784.3h0M370.4 862.0h0M397.7 801.5h0M388.3 865.1h0M321.9 817.7h0M399.9 815.2h0M351.8 856.3h0M343.7 843.2h0M312.4 832.7h0M382.5 874.7h0M371.4 732.4h0M338.1 825.6h0M416.1 837.9h0M343.7 733.4h0M367.8 835.2h0M321.7 795.5h0M375.4 849.6h0M366.8 724.4h0M432.5 851.4h0M400.9 780.5h0M457.9 847.2h0M311.4 776.6h0M397.3 773.8h0M313.6 833.6h0M366.4 726.1h0M369.9 835.7h0M382.3 752.0h0M298.5 831.7h0M334.9 793.6h0M348.5 770.1h0M341.2 851.3h0M388.0 770.8h0M378.5 742.8h0M355.7 843.0h0M377.8 856.5h0M335.5 785.2h0M397.3 807.7h0M318.4 798.9h0M372.8 763.1h0M351.9 764.1h0M290.0 825.0h0M364.6 798.1h0M357.1 750.3h0M460.5 860.9h0M474.6 860.0h0M482.8 873.6h0M480.5 874.6h0M423.2 843.8h0M469.0 860.5h0M475.5 873.1h0M424.3 840.0h0M485.2 869.3h0M473.0 859.5h0M469.8 863.2h0M490.2 869.8h0M461.9 852.3h0M436.2 841.6h0M499.4 870.5h0M441.6 845.6h0M509.7 879.8h0M478.9 871.2h0M504.4 872.6h0M551.8 790.0h0M623.5 660.5h0M640.4 672.6h0M599.2 672.0h0M630.5 671.0h0M595.4 676.0h0M613.7 702.4h0M643.0 665.0h0M631.6 685.3h0M600.5 685.9h0M610.8 684.8h0M620.8 687.0h0M602.8 672.5h0M651.5 681.1h0M605.6 687.1h0M609.9 669.0h0M621.1 673.0h0M615.7 650.9h0M615.4 670.6h0M630.1 660.0h0M623.5 656.3h0M596.4 676.8h0M601.1 679.5h0M612.3 682.2h0M608.0 689.8h0M631.3 688.2h0M607.5 686.6h0M618.3 674.5h0M642.7 691.9h0M602.5 670.1h0M629.6 705.1h0M615.4 711.8h0M638.5 681.1h0M641.9 668.4h0M602.3 698.1h0M632.8 667.3h0M604.8 648.5h0M628.8 659.2h0M635.8 681.0h0M641.1 667.7h0M618.2 664.3h0M611.3 680.0h0M608.9 651.4h0M636.2 697.9h0M597.2 681.3h0M619.7 651.5h0M620.3 664.0h0M620.8 680.2h0M673.8 713.5h0M651.1 693.7h0M595.1 723.3h0M586.4 740.3h0M549.4 776.6h0M563.5 776.0h0M565.5 765.5h0M564.0 775.6h0M566.0 766.3h0M578.0 766.0h0M605.0 777.6h0M610.0 784.0h0M728.0 719.0h0M807.0 792.0h0M752.0 789.0h0M606.0 844.0h0M613.0 858.0h0M725.1 839.9h0M721.8 845.9h0M707.5 852.2h0M712.3 855.7h0M721.6 849.9h0M730.8 836.8h0M708.8 835.7h0M698.5 848.2h0M711.5 848.5h0M725.8 852.4h0M628.8 891.5h0M632.8 899.0h0M621.3 881.0h0M631.3 893.3h0M617.3 876.5h0M638.5 914.0h0M637.6 913.1h0M672.5 922.3h0M705.4 937.5h0M687.6 928.2h0M522.0 985.0h0M520.0 990.0h0M526.0 988.0h0M518.0 1010.0h0M514.0 1022.0h0M507.8 918.0h0"/>
<path stroke="#A886E8" d="M684.6 136.5h0M724.9 191.1h0M679.9 188.7h0M710.6 194.5h0M726.6 147.7h0M693.2 147.4h0M716.0 127.7h0M667.1 151.3h0M708.5 176.2h0M697.1 162.2h0M705.8 133.8h0M679.2 186.5h0M690.9 155.3h0M730.4 144.5h0M711.0 136.0h0M723.9 151.0h0M784.9 247.8h0M739.5 210.1h0M749.0 192.0h0M767.4 197.5h0M757.8 208.4h0M768.3 223.6h0M778.4 238.5h0M763.9 251.2h0M811.1 215.4h0M795.4 235.8h0M800.2 226.6h0M797.2 236.1h0M825.3 230.5h0M800.7 236.2h0M811.5 222.1h0M795.0 233.2h0M793.1 242.7h0M799.8 219.0h0M822.5 228.5h0M802.3 217.9h0M795.8 224.2h0M814.4 222.0h0M796.2 321.0h0M785.1 299.3h0M793.2 277.5h0M822.8 280.2h0M785.6 302.3h0M818.1 289.8h0M827.9 291.6h0M783.0 275.9h0M805.2 280.6h0M802.6 283.0h0M831.1 293.4h0M790.3 283.8h0M803.4 316.3h0M801.3 321.0h0M576.2 241.9h0M574.5 240.4h0M557.7 220.4h0M556.5 231.7h0M542.0 241.6h0M536.8 233.5h0M578.1 230.6h0M644.0 243.3h0M624.1 245.0h0M677.8 247.4h0M676.2 244.5h0M675.5 243.2h0M663.2 232.8h0M695.0 239.2h0M673.5 246.9h0M685.2 201.2h0M729.4 232.1h0M722.2 226.4h0M738.0 249.0h0M715.7 262.9h0M548.8 307.5h0M547.3 308.5h0M485.7 357.0h0M486.8 363.4h0M495.0 355.8h0M390.0 399.4h0M406.5 394.9h0M437.3 393.9h0M423.5 400.3h0M396.8 416.3h0M392.6 423.2h0M486.0 458.5h0M513.7 449.5h0M528.6 457.4h0M492.6 459.1h0M444.3 450.7h0M524.9 453.8h0M535.0 451.7h0M526.4 453.8h0M495.6 452.9h0M510.4 457.2h0M488.8 451.0h0M486.6 458.0h0M526.4 445.3h0M451.0 445.7h0M558.2 494.1h0M555.4 490.3h0M558.6 504.2h0M548.9 490.1h0M538.5 500.9h0M544.8 483.4h0M539.8 466.5h0M565.4 469.9h0M541.7 498.1h0M523.9 481.9h0M533.3 495.1h0M573.0 473.1h0M662.6 445.7h0M644.2 423.3h0M634.1 435.2h0M632.6 443.6h0M595.6 467.6h0M558.4 447.9h0M644.1 451.9h0M660.4 451.9h0M597.3 462.5h0M670.8 459.0h0M642.1 444.9h0M513.7 419.0h0M511.7 438.8h0M595.8 397.8h0M607.6 389.3h0M593.0 388.1h0M589.3 397.6h0M616.6 407.5h0M595.6 416.9h0M589.2 385.8h0M608.6 391.6h0M625.9 408.6h0M711.6 457.5h0M684.5 458.5h0M692.0 464.0h0M685.8 428.8h0M489.2 509.5h0M498.3 490.5h0M503.4 494.0h0M492.8 494.5h0M508.5 494.3h0M509.7 517.9h0M505.6 531.7h0M480.0 557.1h0M476.4 540.2h0M427.5 551.3h0M523.9 511.2h0M505.2 552.5h0M467.7 551.9h0M483.5 538.6h0M496.1 503.9h0M482.3 558.6h0M481.9 535.5h0M501.5 535.3h0M460.8 530.2h0M502.1 524.4h0M505.0 507.2h0M497.4 561.0h0M429.3 556.0h0M495.9 483.3h0M491.5 550.7h0M518.0 540.6h0M494.5 537.3h0M458.2 589.6h0M498.9 581.8h0M452.6 567.3h0M500.2 567.5h0M496.9 565.1h0M461.9 566.3h0M492.3 587.6h0M578.0 537.1h0M591.1 546.2h0M557.9 518.5h0M567.1 527.8h0M591.8 545.7h0M581.0 537.1h0M579.0 538.0h0M587.4 541.4h0M592.6 554.5h0M595.6 549.2h0M585.7 540.7h0M576.9 541.4h0M216.0 502.7h0M223.0 547.8h0M225.6 533.4h0M209.5 569.3h0M184.4 564.1h0M184.8 534.2h0M217.3 520.5h0M186.2 522.6h0M157.2 540.1h0M202.8 510.0h0M177.5 521.5h0M166.3 546.0h0M205.7 563.8h0M197.0 526.6h0M205.2 512.6h0M203.3 510.8h0M208.5 538.4h0M194.7 529.6h0M200.2 526.8h0M185.4 516.5h0M220.2 547.5h0M155.3 556.8h0M157.9 547.6h0M169.5 555.4h0M205.5 526.7h0M177.3 564.8h0M172.4 544.7h0M189.1 538.9h0M192.8 539.8h0M159.8 550.9h0M206.3 535.4h0M224.7 575.4h0M207.3 536.0h0M206.9 568.1h0M224.7 538.8h0M217.4 573.8h0M224.6 539.1h0M187.1 547.0h0M187.1 564.2h0M190.9 521.1h0M225.9 534.2h0M167.6 544.9h0M271.8 528.9h0M249.2 550.1h0M231.8 534.8h0M253.1 499.7h0M236.8 520.8h0M252.4 528.7h0M251.0 535.1h0M242.9 506.3h0M245.0 510.0h0M230.1 515.1h0M246.3 548.2h0M268.5 531.3h0M234.4 554.3h0M259.0 488.9h0M228.4 524.8h0M235.6 506.9h0M269.0 528.6h0M236.5 527.7h0M253.8 494.3h0M234.5 565.2h0M238.6 568.6h0M238.7 547.1h0M227.7 511.4h0M233.3 514.4h0M274.8 531.9h0M245.3 519.1h0M257.1 534.8h0M233.9 551.7h0M266.0 529.0h0M246.6 530.6h0M258.3 537.7h0M251.9 531.9h0M270.0 531.5h0M250.1 534.6h0M259.3 528.1h0M279.9 530.7h0M265.4 531.1h0M259.5 526.4h0M252.4 526.9h0M255.9 534.5h0M280.3 531.4h0M252.7 543.0h0M242.4 529.2h0M263.2 533.0h0M748.9 546.1h0M782.5 589.2h0M740.4 593.3h0M766.8 590.0h0M733.0 561.0h0M1016.5 634.4h0M952.0 749.5h0M972.0 636.6h0M1042.1 680.5h0M1026.1 656.7h0M956.6 688.7h0M1010.8 747.5h0M948.1 688.7h0M1053.1 676.5h0M984.5 758.0h0M926.7 733.1h0M945.3 764.2h0M1024.3 746.4h0M1030.5 662.4h0M1023.2 659.4h0M989.0 753.9h0M993.1 760.5h0M995.3 670.2h0M1017.7 643.8h0M1011.6 674.9h0M321.6 798.1h0M365.1 853.8h0M381.1 832.5h0M362.5 826.6h0M313.1 784.5h0M441.5 852.9h0M318.0 785.8h0M393.5 810.6h0M302.0 823.1h0M367.2 738.7h0M327.3 823.1h0M342.4 722.8h0M389.9 795.4h0M397.6 856.6h0M349.7 852.8h0M437.0 835.3h0M332.3 843.0h0M343.2 752.7h0M315.6 799.4h0M380.0 765.7h0M327.3 734.9h0M334.3 737.4h0M316.2 797.5h0M333.4 747.6h0M353.3 823.1h0M293.2 819.4h0M319.4 791.8h0M377.4 732.3h0M331.8 775.3h0M421.8 835.0h0M353.0 740.4h0M423.4 855.5h0M421.2 831.5h0M403.4 815.9h0M325.2 748.8h0M414.1 820.5h0M361.6 727.6h0M356.4 776.2h0M360.2 847.8h0M324.3 852.7h0M389.8 817.8h0M377.0 749.1h0M342.6 751.9h0M303.9 835.7h0M340.9 855.4h0M344.5 803.9h0M452.4 859.7h0M446.6 867.1h0M363.0 823.2h0M373.6 786.5h0M323.8 776.2h0M386.2 782.0h0M346.6 820.6h0M372.2 784.5h0M432.1 839.8h0M376.2 849.6h0M374.3 850.1h0M421.0 824.0h0M292.4 833.1h0M345.7 832.4h0M365.0 771.2h0M383.3 857.1h0M344.8 736.8h0M306.0 811.3h0M316.5 802.7h0M326.7 780.3h0M363.4 857.2h0M387.4 815.3h0M355.0 813.2h0M342.8 720.3h0M354.1 780.9h0M346.8 856.8h0M362.8 863.8h0M358.1 750.6h0M352.4 825.7h0M358.0 838.1h0M395.0 813.2h0M299.9 829.6h0M384.3 756.2h0M396.9 799.4h0M441.4 867.8h0M311.6 812.0h0M371.6 766.3h0M326.3 794.9h0M356.6 725.7h0M357.4 731.9h0M373.7 872.3h0M338.2 860.3h0M384.8 778.1h0M336.7 819.6h0M381.3 834.8h0M293.8 839.9h0M355.5 739.7h0M339.4 737.4h0M387.1 814.6h0M357.5 799.0h0M347.2 765.4h0M381.0 750.3h0M309.4 854.9h0M371.6 758.3h0M391.6 780.7h0M414.5 834.3h0M409.9 845.6h0M319.3 796.2h0M358.2 738.3h0M393.9 836.3h0M359.3 801.4h0M340.6 856.0h0M401.7 818.3h0M448.3 867.0h0M387.4 806.6h0M347.3 783.4h0M439.8 859.5h0M352.8 788.6h0M363.0 756.0h0M430.6 853.7h0M367.5 749.5h0M389.5 767.7h0M343.9 858.1h0M384.9 850.8h0M453.6 866.2h0M382.0 868.6h0M356.6 815.5h0M336.6 832.3h0M397.1 815.8h0M334.9 724.3h0M319.3 815.1h0M360.1 725.7h0M401.4 826.6h0M363.4 733.9h0M458.0 865.3h0M421.8 832.3h0M431.4 834.6h0M437.4 839.7h0M423.7 844.1h0M470.4 869.6h0M485.3 878.5h0M476.6 864.4h0M551.8 794.0h0M625.7 662.2h0M609.7 703.5h0M633.8 683.0h0M625.8 673.4h0M626.1 654.5h0M644.6 681.8h0M615.1 692.3h0M667.8 706.8h0M670.7 716.1h0M596.8 719.1h0M588.2 728.5h0M590.6 723.9h0M588.9 734.0h0M591.9 730.0h0M557.6 773.7h0M556.3 771.2h0M576.5 770.1h0M563.8 776.6h0M546.5 773.9h0M595.0 776.0h0M610.0 789.0h0M732.4 719.0h0M799.0 781.0h0M806.0 784.0h0M734.4 813.4h0M698.8 856.3h0M703.2 849.9h0M713.5 824.2h0M725.4 852.0h0M711.2 830.3h0M722.0 858.1h0M707.8 858.8h0M727.2 845.6h0M732.1 855.2h0M701.7 842.3h0M632.1 921.4h0M624.5 886.1h0M636.5 911.2h0M626.7 886.9h0M723.0 946.0h0M721.6 937.7h0M716.8 942.2h0M718.8 947.2h0M723.8 943.9h0M517.8 970.7h0M529.0 999.0h0M522.0 1013.0h0M528.0 1012.0h0M624.0 880.0h0M915.6 541.7h0"/>
<path stroke="#8A61F1" d="M674.2 132.6h0M671.8 157.9h0M667.2 127.9h0M811.7 225.0h0M828.5 227.9h0M816.0 235.9h0M795.3 226.1h0M792.0 212.6h0M800.9 223.8h0M811.7 241.0h0M800.4 223.6h0M793.0 226.2h0M801.2 274.6h0M817.9 290.4h0M777.3 276.0h0M575.6 241.6h0M656.1 246.4h0M682.5 252.0h0M725.7 268.2h0M543.5 315.8h0M551.1 305.9h0M541.6 311.7h0M492.7 345.3h0M488.6 354.0h0M387.2 395.8h0M416.0 427.9h0M470.5 423.0h0M533.1 494.6h0M547.8 500.0h0M541.8 469.9h0M570.8 454.9h0M620.5 422.3h0M640.9 448.1h0M592.1 451.7h0M587.5 456.2h0M638.9 455.0h0M518.9 416.7h0M682.7 456.2h0M693.0 457.3h0M712.3 457.2h0M718.0 472.6h0M678.2 431.0h0M716.6 453.0h0M498.5 476.9h0M520.7 497.3h0M500.7 509.8h0M479.6 519.3h0M458.9 546.0h0M501.9 533.6h0M454.2 540.6h0M484.7 588.6h0M446.4 571.6h0M471.2 591.6h0M586.7 544.1h0M198.4 567.8h0M213.2 534.0h0M205.3 558.4h0M175.8 561.4h0M205.2 543.5h0M255.0 494.9h0M227.4 560.6h0M244.4 515.7h0M227.8 573.8h0M234.6 538.1h0M269.1 529.8h0M231.3 508.4h0M233.1 516.6h0M233.7 556.7h0M246.3 530.3h0M271.7 530.4h0M750.2 605.1h0M732.7 589.2h0M978.0 775.4h0M989.6 719.3h0M972.3 680.4h0M1032.1 687.9h0M995.7 734.2h0M926.0 743.4h0M994.9 762.3h0M1001.1 667.9h0M991.7 692.7h0M1040.2 655.5h0M946.3 778.7h0M1049.4 663.7h0M939.7 682.1h0M1017.5 704.5h0M1015.4 659.0h0M1005.5 698.1h0M949.7 694.7h0M1019.2 683.2h0M1027.0 671.6h0M982.0 756.8h0M995.8 766.3h0M365.4 779.7h0M379.6 863.4h0M307.6 835.2h0M386.4 852.8h0M358.2 777.3h0M301.3 839.1h0M400.5 780.1h0M381.4 867.9h0M314.6 858.0h0M344.2 721.0h0M379.3 845.2h0M336.6 777.6h0M408.1 831.5h0M432.7 842.4h0M503.7 880.2h0M486.8 872.1h0M607.6 672.8h0M621.5 688.0h0M624.5 688.8h0M605.5 692.5h0M607.7 669.5h0M642.2 683.4h0M600.1 683.5h0M632.9 686.3h0M625.6 696.7h0M553.9 770.6h0M563.2 775.3h0M808.0 788.0h0M705.5 856.1h0M695.4 854.0h0M724.9 941.4h0"/>
<path stroke="#6139F9" d="M683.0 145.0h0M738.7 189.8h0M791.9 224.8h0M802.9 276.0h0M789.8 316.8h0M563.4 222.9h0M551.4 302.1h0M406.1 420.0h0M531.4 456.3h0M547.4 475.9h0M531.6 480.5h0M600.2 404.7h0M603.5 412.0h0M681.0 446.4h0M491.7 560.8h0M573.2 536.2h0M280.3 529.8h0M234.1 520.3h0M232.8 541.1h0M232.7 567.7h0M252.8 534.1h0M916.5 751.6h0M992.5 730.9h0M1011.7 701.5h0M972.2 771.4h0M957.8 749.1h0M978.0 739.1h0M962.2 686.0h0M977.7 775.9h0M381.2 817.3h0M346.7 792.2h0M605.7 658.0h0"/>
</g>
<g stroke="#000" stroke-width="3" fill="none">
<path d="M95.5 51V1119.5H1118"/>
<path d="M90 277.5H95.5M90 571.5H95.5M90 865.5H95.5"/>
<path d="M141.8 1119.5V1125M307.5 1119.5V1125M473.1 1119.5V1125M638.8 1119.5V1125M804.5 1119.5V1125M970.1 1119.5V1125"/>
</g>
<g font-size="29.8" text-anchor="end">
<text x="88.3" y="288">10</text>
<text x="88.3" y="582">0</text>
<text x="88.3" y="876">-10</text>
</g>
<g font-size="29.8" text-anchor="middle">
<text x="141.8" y="1147.7">-15</text>
<text x="307.5" y="1147.7">-10</text>
<text x="473.1" y="1147.7">-5</text>
<text x="638.8" y="1147.7">0</text>
<text x="804.5" y="1147.7">5</text>
<text x="970.1" y="1147.7">10</text>
</g>
<text x="604" y="1180.8" font-size="29.8" text-anchor="middle">umapNC_1</text>
<text transform="translate(34 585.8) rotate(-90)" font-size="30.3" text-anchor="middle">umapNC_2</text>
<text x="605.6" y="37.2" font-size="34.6" font-weight="bold" text-anchor="middle">Gmfb</text>
<defs><linearGradient id="lg" x1="0" y1="1" x2="0" y2="0"><stop offset="0.00" stop-color="#D3D3D3"/><stop offset="0.10" stop-color="#CAC0D9"/><stop offset="0.20" stop-color="#C1AEDE"/><stop offset="0.30" stop-color="#B69CE3"/><stop offset="0.40" stop-color="#AA89E7"/><stop offset="0.50" stop-color="#9D77EC"/><stop offset="0.60" stop-color="#8E65F0"/><stop offset="0.70" stop-color="#7C51F4"/><stop offset="0.80" stop-color="#673DF8"/><stop offset="0.90" stop-color="#4926FB"/><stop offset="1.00" stop-color="#0000FF"/></linearGradient></defs>
<rect x="1130" y="547" width="16" height="77" fill="url(#lg)"/>
<g stroke="#fff" stroke-width="1" opacity="0.8">
<path d="M1130 567.5h3.4M1142.2 567.5h3.8M1130 586.5h3.4M1142.2 586.5h3.8M1130 605.5h3.4M1142.2 605.5h3.8"/>
</g>
<g font-size="26" text-anchor="start">
<text x="1153.5" y="557.5" textLength="33" lengthAdjust="spacingAndGlyphs">1.6</text>
<text x="1153.5" y="576.5" textLength="33" lengthAdjust="spacingAndGlyphs">1.2</text>
<text x="1153.5" y="595.5" textLength="33" lengthAdjust="spacingAndGlyphs">0.8</text>
<text x="1153.5" y="614.5" textLength="33" lengthAdjust="spacingAndGlyphs">0.4</text>
<text x="1153.5" y="633.5" textLength="33" lengthAdjust="spacingAndGlyphs">0.0</text>
</g>
</svg>
</body></html>
